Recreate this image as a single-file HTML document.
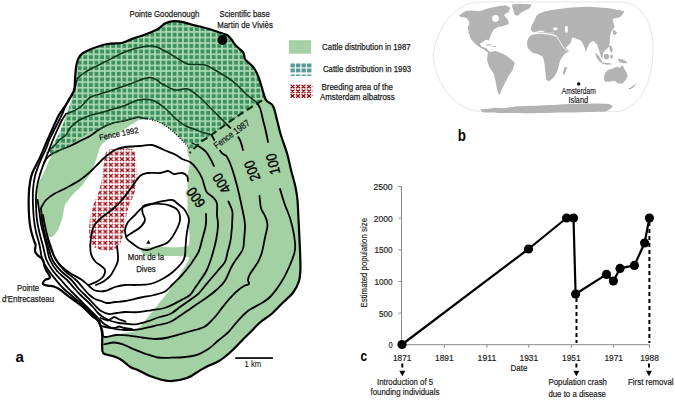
<!DOCTYPE html>
<html><head><meta charset="utf-8">
<style>
html,body{margin:0;padding:0;background:#fff;}
svg{display:block;}
text{font-family:"Liberation Sans",sans-serif;}
</style></head>
<body>
<svg width="675" height="400" viewBox="0 0 675 400">
<defs>
<pattern id="gp" patternUnits="userSpaceOnUse" x="3.53" y="3.18" width="5.58" height="5.58">
<rect width="5.58" height="5.58" fill="#a9d9b0"/>
<rect x="1.7" y="1.7" width="3.88" height="3.88" fill="#3f8f60"/>
</pattern>
<pattern id="rp" patternUnits="userSpaceOnUse" x="2.07" y="0.09" width="5.58" height="5.58">
<rect width="5.58" height="5.58" fill="#fff"/>
<path d="M0.9,0.9 L4.7,4.7 M4.7,0.9 L0.9,4.7" stroke="#9b0a14" stroke-width="1.35"/>
</pattern>
<pattern id="tp" patternUnits="userSpaceOnUse" x="290" y="63" width="4.6" height="4.4">
<rect x="0" y="0" width="3.4" height="3.0" fill="#5a9fa0"/>
</pattern>
<pattern id="lrp" patternUnits="userSpaceOnUse" x="289" y="84" width="5.5" height="4.8">
<path d="M0.8,0.8 L4.2,4.0 M4.2,0.8 L0.8,4.0" stroke="#9b0a14" stroke-width="1.3"/>
</pattern>
</defs>
<rect width="675" height="400" fill="#fff"/>

<!-- ===== Panel a: map ===== -->
<path d="M121.9,43.0 C126.1,42.1 128.4,40.3 132.2,38.9 C136.0,37.5 140.5,36.3 144.7,34.7 C148.8,33.1 153.6,31.4 157.1,29.5 C160.6,27.6 162.6,24.7 165.4,23.3 C168.2,21.9 170.6,21.4 173.7,21.2 C176.8,21.0 180.6,21.6 184.1,22.3 C187.6,23.0 191.8,24.7 194.5,25.4 C197.2,26.1 197.6,25.9 200.0,26.5 C202.4,27.1 206.0,28.1 209.0,29.0 C212.0,29.9 215.0,31.0 218.0,32.0 C221.0,33.0 224.8,33.8 227.0,35.0 C229.2,36.2 230.2,38.0 231.5,39.5 C232.8,41.0 233.2,42.5 234.5,44.0 C235.8,45.5 237.5,47.0 239.0,48.5 C240.5,50.0 242.5,51.2 243.5,53.0 C244.5,54.8 244.0,57.2 245.0,59.0 C246.0,60.8 248.0,62.0 249.5,63.5 C251.0,65.0 252.5,65.8 254.0,68.0 C255.5,70.2 257.2,73.7 258.5,77.0 C259.8,80.3 260.8,84.2 262.0,88.0 C263.2,91.8 264.2,97.0 266.0,100.0 C267.8,103.0 271.2,102.7 273.0,106.0 C274.8,109.3 275.8,115.7 277.0,120.0 C278.2,124.3 279.1,128.7 280.0,132.0 C280.9,135.3 281.2,136.2 282.5,140.0 C283.8,143.8 286.1,150.0 287.5,155.0 C288.9,160.0 289.8,165.0 291.0,170.0 C292.2,175.0 293.9,180.0 295.0,185.0 C296.1,190.0 296.9,193.3 297.5,200.0 C298.1,206.7 298.3,216.7 298.8,225.0 C299.2,233.3 299.7,242.5 300.0,250.0 C300.3,257.5 300.6,264.8 300.4,270.0 C300.2,275.2 300.1,277.3 299.0,281.0 C297.9,284.7 296.2,288.3 293.5,292.0 C290.8,295.7 286.2,299.3 282.5,303.0 C278.8,306.7 275.2,310.8 271.5,314.0 C267.8,317.2 264.2,318.8 260.5,322.0 C256.8,325.2 252.8,329.8 249.5,333.0 C246.2,336.2 244.2,338.2 241.0,341.5 C237.8,344.8 233.7,349.2 230.0,352.5 C226.3,355.8 222.7,358.8 219.0,361.0 C215.3,363.2 211.2,364.4 208.0,366.0 C204.8,367.6 203.5,368.4 200.0,370.4 C196.5,372.4 192.2,376.2 187.0,378.0 C181.8,379.8 175.2,381.3 169.0,381.0 C162.8,380.7 155.0,377.8 150.0,376.0 C145.0,374.2 142.0,371.9 138.8,370.4 C135.6,368.9 133.4,368.8 130.7,367.2 C128.0,365.6 125.2,362.4 122.5,360.6 C119.8,358.8 117.2,357.7 114.4,356.6 C111.6,355.6 107.5,355.2 105.5,354.3 C103.5,353.4 103.0,354.0 102.4,351.0 C101.9,348.0 102.4,340.1 102.2,336.3 C102.0,332.5 101.8,330.6 101.2,328.0 C100.6,325.4 100.0,323.0 98.5,321.0 C97.0,319.0 94.6,318.3 92.0,316.0 C89.4,313.7 86.5,310.0 83.0,307.0 C79.5,304.0 75.0,301.0 71.0,298.0 C67.0,295.0 61.9,290.9 59.0,289.0 C56.1,287.1 55.7,287.1 53.8,286.5 C51.8,285.9 49.3,286.0 47.5,285.6 C45.7,285.2 43.4,284.9 43.0,284.0 C42.6,283.1 43.8,281.1 45.0,280.0 C46.2,278.9 49.8,279.2 50.0,277.5 C50.2,275.8 46.9,271.9 46.0,270.0 C45.1,268.1 44.9,267.7 44.4,266.0 C43.9,264.3 44.1,261.8 43.0,260.0 C41.9,258.2 38.8,256.5 37.5,255.0 C36.2,253.5 35.3,252.7 35.0,251.0 C34.7,249.3 35.8,246.8 35.6,245.0 C35.4,243.2 34.6,242.8 33.8,240.0 C32.9,237.2 31.3,232.2 30.5,228.0 C29.7,223.8 29.3,220.5 29.0,215.0 C28.7,209.5 28.6,200.4 28.8,195.0 C28.9,189.6 29.4,186.2 30.0,182.5 C30.6,178.8 30.8,176.7 32.5,172.5 C34.2,168.3 37.6,162.8 40.0,157.5 C42.4,152.2 45.0,145.6 47.0,141.0 C49.0,136.4 50.0,134.3 52.0,130.0 C54.0,125.7 56.4,119.6 59.0,115.0 C61.6,110.4 65.0,106.7 67.5,102.5 C70.0,98.3 72.8,93.8 74.0,90.0 C75.2,86.2 74.7,83.8 75.0,80.0 C75.3,76.2 75.5,71.1 76.0,67.5 C76.5,63.9 77.2,61.0 78.3,58.6 C79.4,56.2 80.3,55.0 82.4,53.4 C84.5,51.8 86.6,50.8 90.7,49.2 C94.8,47.6 102.1,45.0 107.3,44.0 C112.5,43.0 117.8,43.9 121.9,43.0Z" fill="#fff"/>
<path d="M121.9,43.0 C124.4,42.5 129.9,39.7 132.2,38.9 C134.5,38.1 142.2,35.6 144.7,34.7 C147.2,33.8 155.0,30.6 157.1,29.5 C159.2,28.4 163.7,24.1 165.4,23.3 C167.1,22.5 171.8,21.3 173.7,21.2 C175.6,21.1 182.0,21.9 184.1,22.3 C186.2,22.7 192.9,25.0 194.5,25.4 C196.1,25.8 198.6,26.1 200.0,26.5 C201.4,26.9 207.2,28.4 209.0,29.0 C210.8,29.6 216.2,31.4 218.0,32.0 C219.8,32.6 225.7,34.2 227.0,35.0 C228.3,35.8 230.8,38.6 231.5,39.5 C232.2,40.4 233.8,43.1 234.5,44.0 C235.2,44.9 238.1,47.6 239.0,48.5 C239.9,49.4 242.9,52.0 243.5,53.0 C244.1,54.0 244.4,58.0 245.0,59.0 C245.6,60.0 248.6,62.6 249.5,63.5 C250.4,64.4 253.1,66.7 254.0,68.0 C254.9,69.3 257.7,75.0 258.5,77.0 C259.3,79.0 261.2,85.7 262.0,88.0 C262.8,90.3 264.9,98.2 266.0,100.0 C267.1,101.8 271.9,104.0 273.0,106.0 C274.1,108.0 276.3,117.4 277.0,120.0 C277.7,122.6 279.4,130.0 280.0,132.0 C280.6,134.0 281.8,137.7 282.5,140.0 C283.2,142.3 286.6,152.0 287.5,155.0 C288.4,158.0 290.2,167.0 291.0,170.0 C291.8,173.0 294.4,182.0 295.0,185.0 C295.6,188.0 297.1,196.0 297.5,200.0 C297.9,204.0 298.5,220.0 298.8,225.0 C299.0,230.0 299.8,245.5 300.0,250.0 C300.2,254.5 300.5,266.9 300.4,270.0 C300.3,273.1 299.7,278.8 299.0,281.0 C298.3,283.2 295.1,289.8 293.5,292.0 C291.9,294.2 284.7,300.8 282.5,303.0 C280.3,305.2 273.7,312.1 271.5,314.0 C269.3,315.9 262.7,320.1 260.5,322.0 C258.3,323.9 251.4,331.1 249.5,333.0 C247.6,334.9 242.9,339.6 241.0,341.5 C239.1,343.4 232.2,350.6 230.0,352.5 C227.8,354.4 221.2,359.6 219.0,361.0 C216.8,362.4 209.9,365.1 208.0,366.0 C206.1,366.9 202.1,369.2 200.0,370.4 C197.9,371.6 190.1,376.9 187.0,378.0 C183.9,379.1 172.7,381.2 169.0,381.0 C165.3,380.8 153.0,377.1 150.0,376.0 C147.0,374.9 140.7,371.3 138.8,370.4 C136.9,369.5 132.3,368.2 130.7,367.2 C129.1,366.2 124.1,361.7 122.5,360.6 C120.9,359.5 116.1,357.2 114.4,356.6 C112.7,356.0 106.7,354.9 105.5,354.3 C104.3,353.7 102.7,352.8 102.4,351.0 C102.1,349.2 101.9,337.7 102.2,336.3 C102.5,334.9 103.2,337.2 105.0,337.0 C106.8,336.8 117.0,334.6 120.0,334.0 C123.0,333.4 132.6,332.2 135.0,331.0 C137.4,329.8 141.9,324.4 144.0,322.0 C146.1,319.6 153.6,310.0 156.0,307.0 C158.4,304.0 165.6,295.3 168.0,292.0 C170.4,288.7 177.9,277.3 180.0,274.0 C182.1,270.7 188.5,260.8 189.0,259.0 C189.5,257.2 187.9,256.8 185.0,256.5 C182.1,256.2 164.0,256.1 160.0,256.0 C156.0,255.9 146.9,256.0 145.0,255.5 C143.1,255.0 141.0,251.8 141.0,251.0 C141.0,250.2 143.1,247.9 145.0,247.5 C146.9,247.1 155.7,247.2 160.0,247.0 C164.3,246.8 185.1,248.2 188.0,246.0 C190.9,243.8 188.8,228.6 188.8,225.0 C188.7,221.4 187.6,214.0 187.5,210.0 C187.4,206.0 187.5,188.5 187.5,185.0 C187.5,181.5 187.2,177.2 187.5,175.0 C187.8,172.8 190.0,164.8 190.0,162.5 C190.0,160.2 187.8,154.3 187.5,152.5 C187.2,150.7 187.7,145.8 187.0,144.4 C186.3,143.1 182.0,140.2 180.7,139.0 C179.4,137.8 175.0,133.2 173.6,132.0 C172.2,130.8 168.1,127.8 166.5,126.7 C164.9,125.6 159.4,122.1 157.5,121.3 C155.6,120.5 148.8,118.9 147.0,118.7 C145.2,118.5 141.4,119.0 139.8,119.6 C138.2,120.2 133.0,123.8 131.0,125.0 C129.0,126.2 122.3,130.6 120.0,132.0 C117.7,133.4 109.7,137.6 107.8,139.0 C105.9,140.4 101.7,144.4 100.7,146.0 C99.7,147.6 98.3,152.6 97.5,155.0 C96.7,157.4 94.0,167.0 92.5,170.0 C91.0,173.0 84.5,182.5 82.5,185.0 C80.5,187.5 74.2,193.0 72.5,195.0 C70.8,197.0 66.0,202.8 65.0,205.0 C64.0,207.2 63.2,215.0 62.5,217.5 C61.8,220.0 59.0,228.1 58.0,230.0 C57.0,231.9 53.4,236.6 52.0,237.0 C50.6,237.4 45.1,235.5 44.0,234.0 C42.9,232.5 41.4,224.4 41.0,222.0 C40.6,219.6 40.4,212.4 40.0,210.0 C39.6,207.6 37.7,200.0 37.5,197.5 C37.3,195.0 37.2,187.8 38.0,185.0 C38.8,182.2 43.5,173.2 45.0,170.0 C46.5,166.8 51.0,156.3 52.5,152.5 C54.0,148.7 58.5,136.1 60.0,132.0 C61.5,128.0 66.1,116.0 67.5,112.0 C68.9,108.0 73.2,95.2 74.0,92.0 C74.8,88.8 74.8,82.5 75.0,80.0 C75.2,77.5 75.7,69.6 76.0,67.5 C76.3,65.4 77.7,60.0 78.3,58.6 C78.9,57.2 81.2,54.3 82.4,53.4 C83.6,52.5 88.2,50.1 90.7,49.2 C93.2,48.3 104.2,44.6 107.3,44.0 C110.4,43.4 119.4,43.5 121.9,43.0Z" fill="#a3d1a3"/>
<path d="M121.9,43.0 C124.4,42.5 129.9,39.7 132.2,38.9 C134.5,38.1 142.2,35.6 144.7,34.7 C147.2,33.8 155.0,30.6 157.1,29.5 C159.2,28.4 163.7,24.1 165.4,23.3 C167.1,22.5 171.8,21.3 173.7,21.2 C175.6,21.1 182.0,21.9 184.1,22.3 C186.2,22.7 192.9,25.0 194.5,25.4 C196.1,25.8 198.6,26.1 200.0,26.5 C201.4,26.9 207.2,28.4 209.0,29.0 C210.8,29.6 216.2,31.4 218.0,32.0 C219.8,32.6 225.7,34.2 227.0,35.0 C228.3,35.8 230.8,38.6 231.5,39.5 C232.2,40.4 233.8,43.1 234.5,44.0 C235.2,44.9 238.1,47.6 239.0,48.5 C239.9,49.4 242.9,52.0 243.5,53.0 C244.1,54.0 244.4,58.0 245.0,59.0 C245.6,60.0 248.6,62.6 249.5,63.5 C250.4,64.4 253.1,66.7 254.0,68.0 C254.9,69.3 257.7,75.0 258.5,77.0 C259.3,79.0 261.2,85.7 262.0,88.0 C262.8,90.3 266.1,98.7 266.0,100.0 C265.9,101.3 265.2,98.4 261.0,101.0 C256.8,103.6 230.1,121.8 224.0,126.0 C217.9,130.2 203.3,140.6 200.0,143.0 C196.7,145.4 192.3,149.9 191.0,150.0 C189.7,150.1 188.0,145.5 187.0,144.4 C186.0,143.3 182.0,140.2 180.7,139.0 C179.4,137.8 175.0,133.2 173.6,132.0 C172.2,130.8 168.1,127.8 166.5,126.7 C164.9,125.6 159.4,122.1 157.5,121.3 C155.6,120.5 148.8,118.9 147.0,118.7 C145.2,118.5 140.7,119.8 139.8,119.6 C138.9,119.4 139.4,116.9 138.0,117.0 C136.6,117.1 128.0,119.8 125.5,120.4 C123.0,121.0 115.5,122.2 113.0,123.0 C110.5,123.8 103.0,127.5 100.7,128.4 C98.4,129.3 93.1,130.3 90.0,132.0 C86.9,133.7 73.7,142.7 70.0,145.0 C66.3,147.3 55.0,154.5 53.0,155.0 C51.0,155.5 49.3,152.3 50.0,150.0 C50.7,147.7 58.2,135.8 60.0,132.0 C61.8,128.2 66.1,116.0 67.5,112.0 C68.9,108.0 73.2,95.2 74.0,92.0 C74.8,88.8 74.8,82.5 75.0,80.0 C75.2,77.5 75.7,69.6 76.0,67.5 C76.3,65.4 77.7,60.0 78.3,58.6 C78.9,57.2 81.2,54.3 82.4,53.4 C83.6,52.5 88.2,50.1 90.7,49.2 C93.2,48.3 104.2,44.6 107.3,44.0 C110.4,43.4 119.4,43.5 121.9,43.0Z" fill="url(#gp)"/>
<path d="M108.5,150.0 C111.3,148.8 117.9,148.6 122.0,148.5 C126.1,148.4 130.8,148.2 133.0,149.5 C135.2,150.8 134.8,152.9 135.5,156.0 C136.2,159.1 136.8,164.0 137.0,168.0 C137.2,172.0 137.5,175.7 137.0,180.0 C136.5,184.3 135.5,189.2 134.0,194.0 C132.5,198.8 129.5,204.0 128.0,209.0 C126.5,214.0 126.0,219.0 125.0,224.0 C124.0,229.0 123.2,235.2 122.0,239.0 C120.8,242.8 120.0,245.1 118.0,247.0 C116.0,248.9 113.3,250.2 110.0,250.5 C106.7,250.8 101.1,250.1 98.0,249.0 C94.9,247.9 93.0,246.8 91.5,244.0 C90.0,241.2 89.2,236.3 89.0,232.0 C88.8,227.7 89.3,222.3 90.0,218.0 C90.7,213.7 91.7,210.0 93.0,206.0 C94.3,202.0 96.6,198.3 98.0,194.0 C99.4,189.7 100.6,184.7 101.5,180.0 C102.4,175.3 102.9,170.0 103.5,166.0 C104.1,162.0 104.2,158.7 105.0,156.0 C105.8,153.3 105.7,151.2 108.5,150.0Z" fill="url(#rp)"/>
<mask id="nogrid" maskUnits="userSpaceOnUse" x="0" y="0" width="675" height="400"><rect width="675" height="400" fill="#fff"/><path d="M121.9,43.0 C124.4,42.5 129.9,39.7 132.2,38.9 C134.5,38.1 142.2,35.6 144.7,34.7 C147.2,33.8 155.0,30.6 157.1,29.5 C159.2,28.4 163.7,24.1 165.4,23.3 C167.1,22.5 171.8,21.3 173.7,21.2 C175.6,21.1 182.0,21.9 184.1,22.3 C186.2,22.7 192.9,25.0 194.5,25.4 C196.1,25.8 198.6,26.1 200.0,26.5 C201.4,26.9 207.2,28.4 209.0,29.0 C210.8,29.6 216.2,31.4 218.0,32.0 C219.8,32.6 225.7,34.2 227.0,35.0 C228.3,35.8 230.8,38.6 231.5,39.5 C232.2,40.4 233.8,43.1 234.5,44.0 C235.2,44.9 238.1,47.6 239.0,48.5 C239.9,49.4 242.9,52.0 243.5,53.0 C244.1,54.0 244.4,58.0 245.0,59.0 C245.6,60.0 248.6,62.6 249.5,63.5 C250.4,64.4 253.1,66.7 254.0,68.0 C254.9,69.3 257.7,75.0 258.5,77.0 C259.3,79.0 261.2,85.7 262.0,88.0 C262.8,90.3 266.1,98.7 266.0,100.0 C265.9,101.3 265.2,98.4 261.0,101.0 C256.8,103.6 230.1,121.8 224.0,126.0 C217.9,130.2 203.3,140.6 200.0,143.0 C196.7,145.4 192.3,149.9 191.0,150.0 C189.7,150.1 188.0,145.5 187.0,144.4 C186.0,143.3 182.0,140.2 180.7,139.0 C179.4,137.8 175.0,133.2 173.6,132.0 C172.2,130.8 168.1,127.8 166.5,126.7 C164.9,125.6 159.4,122.1 157.5,121.3 C155.6,120.5 148.8,118.9 147.0,118.7 C145.2,118.5 140.7,119.8 139.8,119.6 C138.9,119.4 139.4,116.9 138.0,117.0 C136.6,117.1 128.0,119.8 125.5,120.4 C123.0,121.0 115.5,122.2 113.0,123.0 C110.5,123.8 103.0,127.5 100.7,128.4 C98.4,129.3 93.1,130.3 90.0,132.0 C86.9,133.7 73.7,142.7 70.0,145.0 C66.3,147.3 55.0,154.5 53.0,155.0 C51.0,155.5 49.3,152.3 50.0,150.0 C50.7,147.7 58.2,135.8 60.0,132.0 C61.8,128.2 66.1,116.0 67.5,112.0 C68.9,108.0 73.2,95.2 74.0,92.0 C74.8,88.8 74.8,82.5 75.0,80.0 C75.2,77.5 75.7,69.6 76.0,67.5 C76.3,65.4 77.7,60.0 78.3,58.6 C78.9,57.2 81.2,54.3 82.4,53.4 C83.6,52.5 88.2,50.1 90.7,49.2 C93.2,48.3 104.2,44.6 107.3,44.0 C110.4,43.4 119.4,43.5 121.9,43.0Z" fill="#000"/></mask>
<clipPath id="gridclip"><path d="M121.9,43.0 C124.4,42.5 129.9,39.7 132.2,38.9 C134.5,38.1 142.2,35.6 144.7,34.7 C147.2,33.8 155.0,30.6 157.1,29.5 C159.2,28.4 163.7,24.1 165.4,23.3 C167.1,22.5 171.8,21.3 173.7,21.2 C175.6,21.1 182.0,21.9 184.1,22.3 C186.2,22.7 192.9,25.0 194.5,25.4 C196.1,25.8 198.6,26.1 200.0,26.5 C201.4,26.9 207.2,28.4 209.0,29.0 C210.8,29.6 216.2,31.4 218.0,32.0 C219.8,32.6 225.7,34.2 227.0,35.0 C228.3,35.8 230.8,38.6 231.5,39.5 C232.2,40.4 233.8,43.1 234.5,44.0 C235.2,44.9 238.1,47.6 239.0,48.5 C239.9,49.4 242.9,52.0 243.5,53.0 C244.1,54.0 244.4,58.0 245.0,59.0 C245.6,60.0 248.6,62.6 249.5,63.5 C250.4,64.4 253.1,66.7 254.0,68.0 C254.9,69.3 257.7,75.0 258.5,77.0 C259.3,79.0 261.2,85.7 262.0,88.0 C262.8,90.3 266.1,98.7 266.0,100.0 C265.9,101.3 265.2,98.4 261.0,101.0 C256.8,103.6 230.1,121.8 224.0,126.0 C217.9,130.2 203.3,140.6 200.0,143.0 C196.7,145.4 192.3,149.9 191.0,150.0 C189.7,150.1 188.0,145.5 187.0,144.4 C186.0,143.3 182.0,140.2 180.7,139.0 C179.4,137.8 175.0,133.2 173.6,132.0 C172.2,130.8 168.1,127.8 166.5,126.7 C164.9,125.6 159.4,122.1 157.5,121.3 C155.6,120.5 148.8,118.9 147.0,118.7 C145.2,118.5 140.7,119.8 139.8,119.6 C138.9,119.4 139.4,116.9 138.0,117.0 C136.6,117.1 128.0,119.8 125.5,120.4 C123.0,121.0 115.5,122.2 113.0,123.0 C110.5,123.8 103.0,127.5 100.7,128.4 C98.4,129.3 93.1,130.3 90.0,132.0 C86.9,133.7 73.7,142.7 70.0,145.0 C66.3,147.3 55.0,154.5 53.0,155.0 C51.0,155.5 49.3,152.3 50.0,150.0 C50.7,147.7 58.2,135.8 60.0,132.0 C61.8,128.2 66.1,116.0 67.5,112.0 C68.9,108.0 73.2,95.2 74.0,92.0 C74.8,88.8 74.8,82.5 75.0,80.0 C75.2,77.5 75.7,69.6 76.0,67.5 C76.3,65.4 77.7,60.0 78.3,58.6 C78.9,57.2 81.2,54.3 82.4,53.4 C83.6,52.5 88.2,50.1 90.7,49.2 C93.2,48.3 104.2,44.6 107.3,44.0 C110.4,43.4 119.4,43.5 121.9,43.0Z"/></clipPath>
<g fill="none" stroke="#000" stroke-width="1.8" stroke-linecap="round" stroke-linejoin="round" mask="url(#nogrid)">
<path d="M268.0,142.0 C267.7,140.3 266.8,135.7 266.0,132.0 C265.2,128.3 264.0,124.0 263.0,120.0 C262.0,116.0 261.2,111.0 260.0,108.0 C258.8,105.0 258.3,104.3 256.0,102.0 C253.7,99.7 249.3,97.0 246.0,94.0 C242.7,91.0 239.0,86.7 236.0,84.0 C233.0,81.3 231.5,80.3 228.0,78.0 C224.5,75.7 218.8,72.2 215.0,70.0 C211.2,67.8 209.6,66.0 205.0,65.0 C200.4,64.0 192.0,65.1 187.5,64.0 C183.0,62.9 181.2,60.6 177.9,58.6 C174.6,56.6 171.0,54.2 167.5,52.3 C164.0,50.4 160.2,48.2 157.1,47.2 C154.0,46.2 152.2,45.9 148.8,46.1 C145.4,46.3 140.5,47.2 136.4,48.2 C132.3,49.2 128.2,50.6 124.0,52.3 C119.8,54.0 115.3,56.7 111.5,58.6 C107.7,60.5 104.5,62.1 101.0,63.8 C97.5,65.5 93.5,67.5 90.7,69.0 C87.9,70.5 86.2,71.5 84.0,73.0 C81.8,74.5 78.6,77.2 77.5,78.0"/>
<path d="M243.0,150.0 C242.5,148.3 241.3,142.8 240.0,140.0 C238.7,137.2 237.5,135.9 235.0,133.0 C232.5,130.1 227.9,125.5 225.0,122.5 C222.1,119.5 220.0,117.5 217.5,115.0 C215.0,112.5 212.9,110.4 210.0,107.5 C207.1,104.6 203.8,100.6 200.0,97.5 C196.2,94.4 191.7,90.2 187.5,89.0 C183.3,87.8 179.2,90.8 175.0,90.0 C170.8,89.2 166.7,86.1 162.5,84.0 C158.3,81.9 155.4,77.5 150.0,77.5 C144.6,77.5 136.2,81.9 130.0,84.0 C123.8,86.1 117.5,88.3 112.5,90.0 C107.5,91.7 103.8,92.8 100.0,94.0 C96.2,95.2 93.2,95.4 90.0,97.5 C86.8,99.6 83.8,104.2 81.0,106.5 C78.2,108.8 76.0,109.8 73.5,111.0 C71.0,112.2 67.2,113.5 66.0,114.0"/>
<path d="M77.5,78.0 C77.2,79.3 76.2,83.5 75.5,86.0 C74.8,88.5 74.6,90.8 73.5,93.0 C72.4,95.2 70.4,96.8 69.0,99.0 C67.6,101.2 66.4,104.0 65.2,106.5 C64.1,109.0 63.4,111.5 62.2,114.0 C61.1,116.5 59.9,118.8 58.5,121.5 C57.1,124.2 55.5,127.5 54.0,130.5 C52.5,133.5 50.9,136.2 49.5,139.5 C48.1,142.8 47.2,146.1 45.5,150.0 C43.8,153.9 41.2,158.7 39.5,163.0 C37.8,167.3 36.1,171.5 35.0,176.0 C33.9,180.5 33.3,185.2 33.0,190.0 C32.7,194.8 32.8,200.0 33.0,205.0 C33.2,210.0 33.5,215.5 34.0,220.0 C34.5,224.5 35.1,227.8 36.0,232.0 C36.9,236.2 38.4,240.3 39.5,245.0 C40.6,249.7 40.9,255.7 42.5,260.0 C44.1,264.3 46.8,267.7 49.0,271.0 C51.2,274.3 53.7,277.2 56.0,280.0 C58.3,282.8 60.5,285.5 63.0,288.0 C65.5,290.5 68.5,292.8 71.0,295.0 C73.5,297.2 75.8,299.2 78.0,301.0 C80.2,302.8 82.2,304.3 84.0,306.0 C85.8,307.7 87.3,309.3 89.0,311.0 C90.7,312.7 92.5,314.3 94.0,316.0 C95.5,317.7 96.9,319.3 98.0,321.0 C99.1,322.7 99.8,324.3 100.5,326.0 C101.2,327.7 101.9,329.2 102.5,331.0 C103.1,332.8 101.9,336.2 104.2,336.9 C106.6,337.6 112.6,335.2 116.8,335.0 C120.9,334.8 125.1,335.2 129.2,335.6 C133.4,336.0 137.4,336.9 141.8,337.5 C146.1,338.1 150.8,339.0 155.2,339.0 C159.6,339.0 162.8,338.7 168.2,337.5 C173.6,336.3 181.8,333.8 187.8,332.0 C193.8,330.2 199.6,329.3 204.0,327.0 C208.4,324.7 211.3,320.8 214.0,318.0 C216.7,315.2 218.1,312.9 220.4,310.0 C222.7,307.1 225.4,303.5 228.0,300.5 C230.6,297.5 233.3,294.4 236.0,292.0 C238.7,289.6 241.8,287.3 244.0,286.0 C246.2,284.7 248.3,285.0 249.0,284.0 C249.7,283.0 247.8,281.7 248.0,280.0 C248.2,278.3 248.3,277.0 250.0,274.0 C251.7,271.0 256.0,265.7 258.0,262.0 C260.0,258.3 260.8,256.1 262.0,252.0 C263.2,247.9 264.1,242.0 265.0,237.5 C265.9,233.0 267.5,228.6 267.5,225.0 C267.5,221.4 266.1,218.8 265.0,216.0 C263.9,213.2 261.9,211.3 261.0,208.0 C260.1,204.7 259.8,198.0 259.5,196.0"/>
<path d="M66.0,114.0 C65.3,115.0 63.5,117.2 62.0,120.0 C60.5,122.8 58.6,127.0 57.0,130.5 C55.4,134.0 53.8,137.8 52.5,141.0 C51.2,144.2 50.4,146.3 49.0,150.0 C47.6,153.7 45.6,158.7 44.0,163.0 C42.4,167.3 40.8,171.5 39.5,176.0 C38.2,180.5 37.1,185.2 36.5,190.0 C35.9,194.8 35.9,200.0 36.0,205.0 C36.1,210.0 36.4,215.3 37.0,220.0 C37.6,224.7 38.5,228.7 39.5,233.0 C40.5,237.3 41.8,241.5 43.0,246.0 C44.2,250.5 44.8,255.8 46.5,260.0 C48.2,264.2 50.6,267.7 53.0,271.0 C55.4,274.3 58.5,277.2 61.0,280.0 C63.5,282.8 65.7,285.5 68.0,288.0 C70.3,290.5 72.7,292.7 75.0,295.0 C77.3,297.3 79.7,299.7 82.0,302.0 C84.3,304.3 86.8,306.8 89.0,309.0 C91.2,311.2 93.2,313.2 95.0,315.0 C96.8,316.8 98.3,318.4 100.0,320.0 C101.7,321.6 102.8,323.1 105.0,324.5 C107.2,325.9 109.7,327.6 113.0,328.5 C116.3,329.4 121.7,329.8 125.0,330.0 C128.3,330.2 130.2,330.2 133.0,330.0 C135.8,329.8 138.8,329.3 141.8,328.8 C144.7,328.2 147.8,327.5 150.5,326.9 C153.2,326.3 154.8,325.8 158.0,325.0 C161.2,324.2 166.1,323.7 170.0,322.0 C173.9,320.3 178.0,317.2 181.3,315.0 C184.6,312.8 187.4,310.8 190.0,309.0 C192.6,307.2 194.1,306.0 197.0,304.0 C199.9,302.0 204.3,299.3 207.5,297.0 C210.7,294.7 213.4,292.7 216.3,290.0 C219.2,287.3 222.1,285.2 224.8,281.0 C227.4,276.8 229.5,270.2 232.5,265.0 C235.5,259.8 240.6,254.2 242.5,250.0 C244.4,245.8 243.6,244.2 244.0,240.0 C244.4,235.8 245.2,230.0 245.0,225.0 C244.8,220.0 243.8,216.2 242.5,210.0 C241.2,203.8 239.2,194.2 237.5,187.5 C235.8,180.8 234.2,175.1 232.5,170.0 C230.8,164.9 228.8,159.8 227.0,157.0 C225.2,154.2 223.6,155.2 221.8,153.0 C220.0,150.8 217.8,147.0 216.0,144.0 C214.2,141.0 213.6,136.9 211.3,135.0 C209.1,133.1 205.4,133.5 202.5,132.5 C199.6,131.5 196.7,130.2 193.8,129.0 C190.8,127.8 188.1,127.3 185.0,125.5 C181.9,123.7 178.4,120.9 175.0,118.0 C171.6,115.1 168.5,111.0 164.7,108.0 C160.9,105.0 156.4,101.3 152.0,100.0 C147.6,98.7 142.4,99.1 138.0,100.0 C133.6,100.9 130.5,103.5 125.5,105.3 C120.5,107.1 113.7,109.0 107.8,110.7 C101.9,112.4 94.7,114.0 90.0,115.5 C85.3,117.0 82.8,118.0 79.5,120.0 C76.2,122.0 72.8,125.0 70.5,127.5 C68.2,130.0 67.8,133.0 66.0,135.0 C64.2,137.0 61.8,137.8 60.0,139.5 C58.2,141.2 56.7,143.2 55.0,145.0 C53.3,146.8 51.2,148.7 50.0,150.0 C48.8,151.3 47.9,152.5 47.5,153.0"/>
<path d="M213.9,166.0 C213.5,165.1 212.6,162.9 211.3,160.5 C210.0,158.1 208.1,154.1 206.0,151.8 C203.9,149.4 201.3,148.0 199.0,146.5 C196.7,145.0 193.2,143.6 192.0,143.0"/>
<path d="M37.5,200.0 C37.7,201.0 38.2,203.8 38.5,206.0 C38.8,208.2 39.1,210.0 39.5,213.0 C39.9,216.0 40.2,220.2 41.0,224.0 C41.8,227.8 43.0,232.0 44.0,236.0 C45.0,240.0 46.0,244.0 47.0,248.0 C48.0,252.0 48.3,256.2 50.0,260.0 C51.7,263.8 54.2,267.7 57.0,271.0 C59.8,274.3 64.2,277.2 67.0,280.0 C69.8,282.8 71.8,285.5 74.0,288.0 C76.2,290.5 78.3,292.8 80.5,295.0 C82.7,297.2 84.9,299.0 87.0,301.0 C89.1,303.0 91.2,305.0 93.0,307.0 C94.8,309.0 96.3,311.3 98.0,313.0 C99.7,314.7 100.8,315.7 103.0,317.0 C105.2,318.3 108.3,320.0 111.0,321.0 C113.7,322.0 116.7,322.6 119.0,323.0 C121.3,323.4 122.2,323.3 125.0,323.5 C127.8,323.7 131.7,324.8 135.5,324.4 C139.3,324.0 144.2,322.4 148.0,321.2 C151.8,320.1 154.3,318.7 158.0,317.5 C161.7,316.3 166.1,315.9 170.0,314.0 C173.9,312.1 178.0,308.3 181.3,306.0 C184.6,303.7 187.1,302.1 190.0,300.0 C192.9,297.9 195.9,296.2 198.8,293.3 C201.7,290.4 204.3,286.6 207.5,282.8 C210.7,279.0 215.1,274.0 218.0,270.5 C220.9,267.0 223.4,264.8 225.0,261.8 C226.6,258.8 226.5,256.6 227.5,252.5 C228.5,248.4 230.2,243.8 231.0,237.5 C231.8,231.2 232.4,219.7 232.5,215.0 C232.6,210.3 232.4,211.7 231.8,209.4 C231.1,207.2 229.0,202.8 228.4,201.5"/>
<path d="M147.0,118.7 C146.1,118.5 143.0,118.1 141.5,117.8 C140.0,117.5 140.7,116.6 138.0,117.0 C135.3,117.4 129.7,119.4 125.5,120.4 C121.3,121.4 117.1,121.7 113.0,123.0 C108.9,124.3 104.5,126.2 100.7,128.4 C96.9,130.6 93.5,133.9 90.0,136.0 C86.5,138.1 83.3,139.3 80.0,141.0 C76.7,142.7 73.3,144.5 70.0,146.0 C66.7,147.5 63.0,148.7 60.0,150.0 C57.0,151.3 54.2,152.7 52.0,154.0 C49.8,155.3 48.3,156.5 47.0,158.0 C45.7,159.5 44.5,162.2 44.0,163.0"/>
<path d="M41.0,208.0 C41.2,210.0 41.4,215.8 42.0,220.0 C42.6,224.2 43.5,228.7 44.5,233.0 C45.5,237.3 46.7,241.5 48.0,246.0 C49.3,250.5 50.3,255.8 52.5,260.0 C54.7,264.2 57.8,267.7 61.0,271.0 C64.2,274.3 68.7,277.2 71.5,280.0 C74.3,282.8 75.8,285.5 78.0,288.0 C80.2,290.5 82.8,292.8 85.0,295.0 C87.2,297.2 89.1,299.0 91.0,301.0 C92.9,303.0 94.8,305.3 96.5,307.0 C98.2,308.7 98.9,309.8 101.0,311.0 C103.1,312.2 106.3,313.7 109.0,314.0 C111.7,314.3 114.3,313.3 117.0,313.0 C119.7,312.7 121.5,312.1 125.0,312.0 C128.5,311.9 133.7,312.5 138.0,312.2 C142.3,311.9 146.3,311.1 151.0,310.3 C155.7,309.5 160.9,309.2 166.0,307.5 C171.1,305.8 177.3,302.1 181.3,300.0 C185.3,297.9 187.7,297.1 190.0,295.0 C192.3,292.9 192.7,291.3 195.3,287.5 C197.9,283.7 203.4,276.2 205.8,272.0 C208.2,267.8 208.8,265.2 210.0,262.0 C211.2,258.8 211.8,256.8 212.8,253.0 C213.9,249.2 215.4,243.7 216.3,239.0 C217.2,234.3 217.9,229.0 218.0,225.0 C218.1,221.0 217.2,218.5 217.0,215.0 C216.8,211.5 217.5,206.6 217.0,203.8 C216.5,200.9 215.4,199.9 213.8,198.0 C212.1,196.1 208.5,194.3 207.0,192.5 C205.5,190.7 205.5,189.3 204.7,186.9 C203.9,184.5 203.4,181.2 202.0,178.0 C200.6,174.8 198.0,170.7 196.0,168.0 C194.0,165.3 192.3,163.5 190.0,162.0 C187.7,160.5 184.3,160.2 182.0,159.0 C179.7,157.8 179.0,156.5 176.0,155.0 C173.0,153.5 168.0,151.7 164.0,150.0 C160.0,148.3 156.0,145.7 152.0,145.0 C148.0,144.3 144.4,145.7 140.0,146.0 C135.6,146.3 129.7,146.3 125.5,147.0 C121.3,147.7 118.6,148.2 115.0,150.0 C111.4,151.8 106.8,155.7 104.0,158.0 C101.2,160.3 100.3,161.7 98.0,164.0 C95.7,166.3 93.0,169.3 90.0,172.0 C87.0,174.7 84.0,177.3 80.0,180.0 C76.0,182.7 70.3,185.7 66.0,188.0 C61.7,190.3 57.3,192.0 54.0,194.0 C50.7,196.0 48.2,197.7 46.0,200.0 C43.8,202.3 41.8,206.7 41.0,208.0"/>
<path d="M43.0,215.0 C43.3,216.8 44.2,222.2 45.0,226.0 C45.8,229.8 46.8,234.0 48.0,238.0 C49.2,242.0 50.7,246.3 52.0,250.0 C53.3,253.7 53.8,256.5 56.0,260.0 C58.2,263.5 61.7,267.7 65.0,271.0 C68.3,274.3 73.0,277.2 76.0,280.0 C79.0,282.8 80.8,285.5 83.0,288.0 C85.2,290.5 87.5,293.2 89.5,295.0 C91.5,296.8 93.1,298.0 95.0,299.0 C96.9,300.0 99.0,300.3 101.0,301.0 C103.0,301.7 104.7,302.8 107.0,303.0 C109.3,303.2 112.0,302.3 115.0,302.0 C118.0,301.7 120.7,301.8 125.0,301.0 C129.3,300.2 136.2,298.5 141.0,297.5 C145.8,296.5 150.0,296.0 154.0,295.0 C158.0,294.0 161.9,293.2 165.0,291.5 C168.1,289.8 169.8,287.1 172.5,284.5 C175.2,281.9 178.4,279.0 181.3,275.8 C184.2,272.6 188.0,267.9 190.0,265.3 C192.0,262.7 192.0,262.3 193.5,260.0 C195.0,257.7 197.3,254.8 198.8,251.3 C200.3,247.8 201.1,243.4 202.3,239.0 C203.5,234.6 205.2,229.2 205.8,225.0 C206.4,220.8 206.0,215.8 206.0,214.0"/>
<path d="M47.0,236.0 C47.6,238.0 49.2,244.3 50.5,248.0 C51.8,251.7 53.2,255.0 55.0,258.0 C56.8,261.0 58.5,263.5 61.0,266.0 C63.5,268.5 66.5,270.7 70.0,273.0 C73.5,275.3 78.8,277.8 82.0,280.0 C85.2,282.2 86.8,284.2 89.0,286.0 C91.2,287.8 92.3,289.7 95.0,290.5 C97.7,291.3 101.7,291.6 105.0,291.0 C108.3,290.4 111.7,288.0 115.0,287.0 C118.3,286.0 121.7,285.3 125.0,285.0 C128.3,284.7 131.2,285.1 135.0,285.0 C138.8,284.9 144.2,284.8 147.5,284.4 C150.8,284.0 152.1,283.6 155.0,282.5 C157.9,281.4 162.1,279.2 165.0,277.5 C167.9,275.8 169.8,274.6 172.5,272.3 C175.2,270.0 179.2,266.1 181.3,263.5 C183.4,260.9 184.1,259.4 184.8,256.5 C185.5,253.6 185.3,249.5 185.6,246.0 C185.9,242.5 186.1,239.0 186.5,235.5 C186.9,232.0 187.9,227.6 188.3,225.0 C188.7,222.4 189.1,221.5 189.0,220.0 C188.9,218.5 188.8,217.8 188.0,216.0 C187.2,214.2 185.7,211.0 184.0,209.0 C182.3,207.0 179.9,205.5 178.0,204.0 C176.1,202.5 175.1,200.5 172.5,200.0 C169.9,199.5 165.8,200.6 162.5,201.2 C159.2,201.9 155.8,202.7 152.5,203.8 C149.2,204.8 145.4,205.6 142.5,207.5 C139.6,209.4 137.4,212.6 135.0,215.0 C132.6,217.4 129.7,219.5 128.0,222.0 C126.3,224.5 125.3,227.5 125.0,230.0 C124.7,232.5 126.0,235.8 126.2,237.0"/>
<path d="M280.0,189.0 C280.8,191.7 283.3,200.2 285.0,205.0 C286.7,209.8 288.5,213.0 290.0,218.0 C291.5,223.0 293.2,229.7 294.0,235.0 C294.8,240.3 295.7,245.0 295.0,250.0 C294.3,255.0 292.2,259.8 290.0,265.0 C287.8,270.2 285.3,275.7 282.0,281.0 C278.7,286.3 273.7,293.2 270.0,297.0 C266.3,300.8 263.7,301.7 260.0,304.0 C256.3,306.3 251.6,308.1 247.8,311.0 C244.0,313.9 240.5,318.0 237.3,321.5 C234.1,325.0 231.7,328.8 228.5,332.0 C225.3,335.2 221.5,337.9 218.0,340.8 C214.5,343.7 211.0,347.2 207.5,349.5 C204.0,351.8 200.8,353.6 197.0,354.8 C193.2,356.1 189.3,356.5 185.0,357.0 C180.7,357.5 175.8,357.6 171.3,357.7 C166.8,357.8 162.3,358.2 158.0,357.5 C153.7,356.8 149.7,355.2 145.5,353.8 C141.3,352.3 136.8,350.3 133.0,348.8 C129.2,347.2 126.1,345.4 123.0,344.4 C119.9,343.4 117.4,342.5 114.2,342.5 C111.1,342.5 105.9,344.1 104.2,344.4"/>
<path d="M188.0,181.0 C187.8,180.2 188.0,177.3 187.0,176.0 C186.0,174.7 184.2,173.3 182.0,173.0 C179.8,172.7 176.3,174.3 174.0,174.0 C171.7,173.7 170.3,171.2 168.0,171.0 C165.7,170.8 163.3,172.7 160.0,173.0 C156.7,173.3 151.3,172.5 148.0,173.0 C144.7,173.5 142.8,173.5 140.0,176.0 C137.2,178.5 134.0,184.0 131.0,188.0 C128.0,192.0 125.0,196.5 122.0,200.0 C119.0,203.5 116.5,206.0 113.0,209.0 C109.5,212.0 104.2,215.0 101.0,218.0 C97.8,221.0 95.2,223.0 93.5,227.0 C91.8,231.0 90.9,237.5 90.5,242.0 C90.1,246.5 90.2,250.8 91.0,254.0 C91.8,257.2 93.5,259.4 95.0,261.2 C96.5,263.1 98.4,263.8 100.0,265.0 C101.6,266.2 103.6,267.5 104.4,268.8 C105.2,270.0 105.3,271.0 105.0,272.5 C104.7,274.0 103.8,276.0 102.5,277.5 C101.2,279.0 99.2,280.2 97.0,281.5 C94.8,282.8 90.3,284.4 89.0,285.0"/>
<path d="M117.0,246.0 C117.2,247.7 117.9,253.2 118.0,256.0 C118.1,258.8 118.2,260.2 117.5,262.5 C116.8,264.8 115.0,267.7 113.8,270.0 C112.5,272.3 111.7,274.4 110.0,276.2 C108.3,278.1 106.1,279.8 103.8,281.2 C101.4,282.7 97.3,284.4 96.0,285.0"/>
<path d="M126.2,237.5 C126.2,235.7 130.2,234.2 132.5,232.5 C134.8,230.8 137.9,229.6 140.0,227.5 C142.1,225.4 144.6,222.5 145.0,220.0 C145.4,217.5 142.8,214.8 142.5,212.5 C142.2,210.2 141.8,207.7 143.0,206.2 C144.2,204.8 147.2,204.4 150.0,204.0 C152.8,203.6 157.0,203.6 160.0,203.8 C163.0,203.9 165.1,204.0 168.0,205.0 C170.9,206.0 175.5,207.5 177.5,210.0 C179.5,212.5 180.4,216.2 180.0,220.0 C179.6,223.8 177.1,228.8 175.0,232.5 C172.9,236.2 170.7,240.1 167.5,242.5 C164.3,244.9 159.3,245.8 156.0,247.0 C152.7,248.2 150.2,249.8 147.5,250.0 C144.8,250.2 142.5,249.6 140.0,248.5 C137.5,247.4 134.8,245.3 132.5,243.5 C130.2,241.7 126.2,239.3 126.2,237.5Z"/>
<path d="M100.5,318.0 C101.2,318.2 106.6,320.6 108.0,320.5 C109.4,320.4 113.1,317.1 114.2,317.0 C115.4,316.9 118.1,319.1 119.2,319.5 C120.4,319.9 124.9,321.3 125.5,321.5"/>
<path d="M101.0,326.0 C101.7,326.1 106.7,327.3 108.0,327.5 C109.3,327.7 113.1,328.1 114.2,328.0 C115.4,327.9 118.2,326.5 119.2,326.5 C120.2,326.5 123.0,327.8 124.2,328.0 C125.5,328.2 131.0,328.9 131.8,329.0"/>
</g>
<g fill="none" stroke="#0c3519" stroke-width="1.5" stroke-linecap="round" stroke-linejoin="round" clip-path="url(#gridclip)">
<path d="M268.0,142.0 C267.7,140.3 266.8,135.7 266.0,132.0 C265.2,128.3 264.0,124.0 263.0,120.0 C262.0,116.0 261.2,111.0 260.0,108.0 C258.8,105.0 258.3,104.3 256.0,102.0 C253.7,99.7 249.3,97.0 246.0,94.0 C242.7,91.0 239.0,86.7 236.0,84.0 C233.0,81.3 231.5,80.3 228.0,78.0 C224.5,75.7 218.8,72.2 215.0,70.0 C211.2,67.8 209.6,66.0 205.0,65.0 C200.4,64.0 192.0,65.1 187.5,64.0 C183.0,62.9 181.2,60.6 177.9,58.6 C174.6,56.6 171.0,54.2 167.5,52.3 C164.0,50.4 160.2,48.2 157.1,47.2 C154.0,46.2 152.2,45.9 148.8,46.1 C145.4,46.3 140.5,47.2 136.4,48.2 C132.3,49.2 128.2,50.6 124.0,52.3 C119.8,54.0 115.3,56.7 111.5,58.6 C107.7,60.5 104.5,62.1 101.0,63.8 C97.5,65.5 93.5,67.5 90.7,69.0 C87.9,70.5 86.2,71.5 84.0,73.0 C81.8,74.5 78.6,77.2 77.5,78.0"/>
<path d="M243.0,150.0 C242.5,148.3 241.3,142.8 240.0,140.0 C238.7,137.2 237.5,135.9 235.0,133.0 C232.5,130.1 227.9,125.5 225.0,122.5 C222.1,119.5 220.0,117.5 217.5,115.0 C215.0,112.5 212.9,110.4 210.0,107.5 C207.1,104.6 203.8,100.6 200.0,97.5 C196.2,94.4 191.7,90.2 187.5,89.0 C183.3,87.8 179.2,90.8 175.0,90.0 C170.8,89.2 166.7,86.1 162.5,84.0 C158.3,81.9 155.4,77.5 150.0,77.5 C144.6,77.5 136.2,81.9 130.0,84.0 C123.8,86.1 117.5,88.3 112.5,90.0 C107.5,91.7 103.8,92.8 100.0,94.0 C96.2,95.2 93.2,95.4 90.0,97.5 C86.8,99.6 83.8,104.2 81.0,106.5 C78.2,108.8 76.0,109.8 73.5,111.0 C71.0,112.2 67.2,113.5 66.0,114.0"/>
<path d="M77.5,78.0 C77.2,79.3 76.2,83.5 75.5,86.0 C74.8,88.5 74.6,90.8 73.5,93.0 C72.4,95.2 70.4,96.8 69.0,99.0 C67.6,101.2 66.4,104.0 65.2,106.5 C64.1,109.0 63.4,111.5 62.2,114.0 C61.1,116.5 59.9,118.8 58.5,121.5 C57.1,124.2 55.5,127.5 54.0,130.5 C52.5,133.5 50.9,136.2 49.5,139.5 C48.1,142.8 47.2,146.1 45.5,150.0 C43.8,153.9 41.2,158.7 39.5,163.0 C37.8,167.3 36.1,171.5 35.0,176.0 C33.9,180.5 33.3,185.2 33.0,190.0 C32.7,194.8 32.8,200.0 33.0,205.0 C33.2,210.0 33.5,215.5 34.0,220.0 C34.5,224.5 35.1,227.8 36.0,232.0 C36.9,236.2 38.4,240.3 39.5,245.0 C40.6,249.7 40.9,255.7 42.5,260.0 C44.1,264.3 46.8,267.7 49.0,271.0 C51.2,274.3 53.7,277.2 56.0,280.0 C58.3,282.8 60.5,285.5 63.0,288.0 C65.5,290.5 68.5,292.8 71.0,295.0 C73.5,297.2 75.8,299.2 78.0,301.0 C80.2,302.8 82.2,304.3 84.0,306.0 C85.8,307.7 87.3,309.3 89.0,311.0 C90.7,312.7 92.5,314.3 94.0,316.0 C95.5,317.7 96.9,319.3 98.0,321.0 C99.1,322.7 99.8,324.3 100.5,326.0 C101.2,327.7 101.9,329.2 102.5,331.0 C103.1,332.8 101.9,336.2 104.2,336.9 C106.6,337.6 112.6,335.2 116.8,335.0 C120.9,334.8 125.1,335.2 129.2,335.6 C133.4,336.0 137.4,336.9 141.8,337.5 C146.1,338.1 150.8,339.0 155.2,339.0 C159.6,339.0 162.8,338.7 168.2,337.5 C173.6,336.3 181.8,333.8 187.8,332.0 C193.8,330.2 199.6,329.3 204.0,327.0 C208.4,324.7 211.3,320.8 214.0,318.0 C216.7,315.2 218.1,312.9 220.4,310.0 C222.7,307.1 225.4,303.5 228.0,300.5 C230.6,297.5 233.3,294.4 236.0,292.0 C238.7,289.6 241.8,287.3 244.0,286.0 C246.2,284.7 248.3,285.0 249.0,284.0 C249.7,283.0 247.8,281.7 248.0,280.0 C248.2,278.3 248.3,277.0 250.0,274.0 C251.7,271.0 256.0,265.7 258.0,262.0 C260.0,258.3 260.8,256.1 262.0,252.0 C263.2,247.9 264.1,242.0 265.0,237.5 C265.9,233.0 267.5,228.6 267.5,225.0 C267.5,221.4 266.1,218.8 265.0,216.0 C263.9,213.2 261.9,211.3 261.0,208.0 C260.1,204.7 259.8,198.0 259.5,196.0"/>
<path d="M66.0,114.0 C65.3,115.0 63.5,117.2 62.0,120.0 C60.5,122.8 58.6,127.0 57.0,130.5 C55.4,134.0 53.8,137.8 52.5,141.0 C51.2,144.2 50.4,146.3 49.0,150.0 C47.6,153.7 45.6,158.7 44.0,163.0 C42.4,167.3 40.8,171.5 39.5,176.0 C38.2,180.5 37.1,185.2 36.5,190.0 C35.9,194.8 35.9,200.0 36.0,205.0 C36.1,210.0 36.4,215.3 37.0,220.0 C37.6,224.7 38.5,228.7 39.5,233.0 C40.5,237.3 41.8,241.5 43.0,246.0 C44.2,250.5 44.8,255.8 46.5,260.0 C48.2,264.2 50.6,267.7 53.0,271.0 C55.4,274.3 58.5,277.2 61.0,280.0 C63.5,282.8 65.7,285.5 68.0,288.0 C70.3,290.5 72.7,292.7 75.0,295.0 C77.3,297.3 79.7,299.7 82.0,302.0 C84.3,304.3 86.8,306.8 89.0,309.0 C91.2,311.2 93.2,313.2 95.0,315.0 C96.8,316.8 98.3,318.4 100.0,320.0 C101.7,321.6 102.8,323.1 105.0,324.5 C107.2,325.9 109.7,327.6 113.0,328.5 C116.3,329.4 121.7,329.8 125.0,330.0 C128.3,330.2 130.2,330.2 133.0,330.0 C135.8,329.8 138.8,329.3 141.8,328.8 C144.7,328.2 147.8,327.5 150.5,326.9 C153.2,326.3 154.8,325.8 158.0,325.0 C161.2,324.2 166.1,323.7 170.0,322.0 C173.9,320.3 178.0,317.2 181.3,315.0 C184.6,312.8 187.4,310.8 190.0,309.0 C192.6,307.2 194.1,306.0 197.0,304.0 C199.9,302.0 204.3,299.3 207.5,297.0 C210.7,294.7 213.4,292.7 216.3,290.0 C219.2,287.3 222.1,285.2 224.8,281.0 C227.4,276.8 229.5,270.2 232.5,265.0 C235.5,259.8 240.6,254.2 242.5,250.0 C244.4,245.8 243.6,244.2 244.0,240.0 C244.4,235.8 245.2,230.0 245.0,225.0 C244.8,220.0 243.8,216.2 242.5,210.0 C241.2,203.8 239.2,194.2 237.5,187.5 C235.8,180.8 234.2,175.1 232.5,170.0 C230.8,164.9 228.8,159.8 227.0,157.0 C225.2,154.2 223.6,155.2 221.8,153.0 C220.0,150.8 217.8,147.0 216.0,144.0 C214.2,141.0 213.6,136.9 211.3,135.0 C209.1,133.1 205.4,133.5 202.5,132.5 C199.6,131.5 196.7,130.2 193.8,129.0 C190.8,127.8 188.1,127.3 185.0,125.5 C181.9,123.7 178.4,120.9 175.0,118.0 C171.6,115.1 168.5,111.0 164.7,108.0 C160.9,105.0 156.4,101.3 152.0,100.0 C147.6,98.7 142.4,99.1 138.0,100.0 C133.6,100.9 130.5,103.5 125.5,105.3 C120.5,107.1 113.7,109.0 107.8,110.7 C101.9,112.4 94.7,114.0 90.0,115.5 C85.3,117.0 82.8,118.0 79.5,120.0 C76.2,122.0 72.8,125.0 70.5,127.5 C68.2,130.0 67.8,133.0 66.0,135.0 C64.2,137.0 61.8,137.8 60.0,139.5 C58.2,141.2 56.7,143.2 55.0,145.0 C53.3,146.8 51.2,148.7 50.0,150.0 C48.8,151.3 47.9,152.5 47.5,153.0"/>
<path d="M213.9,166.0 C213.5,165.1 212.6,162.9 211.3,160.5 C210.0,158.1 208.1,154.1 206.0,151.8 C203.9,149.4 201.3,148.0 199.0,146.5 C196.7,145.0 193.2,143.6 192.0,143.0"/>
<path d="M37.5,200.0 C37.7,201.0 38.2,203.8 38.5,206.0 C38.8,208.2 39.1,210.0 39.5,213.0 C39.9,216.0 40.2,220.2 41.0,224.0 C41.8,227.8 43.0,232.0 44.0,236.0 C45.0,240.0 46.0,244.0 47.0,248.0 C48.0,252.0 48.3,256.2 50.0,260.0 C51.7,263.8 54.2,267.7 57.0,271.0 C59.8,274.3 64.2,277.2 67.0,280.0 C69.8,282.8 71.8,285.5 74.0,288.0 C76.2,290.5 78.3,292.8 80.5,295.0 C82.7,297.2 84.9,299.0 87.0,301.0 C89.1,303.0 91.2,305.0 93.0,307.0 C94.8,309.0 96.3,311.3 98.0,313.0 C99.7,314.7 100.8,315.7 103.0,317.0 C105.2,318.3 108.3,320.0 111.0,321.0 C113.7,322.0 116.7,322.6 119.0,323.0 C121.3,323.4 122.2,323.3 125.0,323.5 C127.8,323.7 131.7,324.8 135.5,324.4 C139.3,324.0 144.2,322.4 148.0,321.2 C151.8,320.1 154.3,318.7 158.0,317.5 C161.7,316.3 166.1,315.9 170.0,314.0 C173.9,312.1 178.0,308.3 181.3,306.0 C184.6,303.7 187.1,302.1 190.0,300.0 C192.9,297.9 195.9,296.2 198.8,293.3 C201.7,290.4 204.3,286.6 207.5,282.8 C210.7,279.0 215.1,274.0 218.0,270.5 C220.9,267.0 223.4,264.8 225.0,261.8 C226.6,258.8 226.5,256.6 227.5,252.5 C228.5,248.4 230.2,243.8 231.0,237.5 C231.8,231.2 232.4,219.7 232.5,215.0 C232.6,210.3 232.4,211.7 231.8,209.4 C231.1,207.2 229.0,202.8 228.4,201.5"/>
<path d="M147.0,118.7 C146.1,118.5 143.0,118.1 141.5,117.8 C140.0,117.5 140.7,116.6 138.0,117.0 C135.3,117.4 129.7,119.4 125.5,120.4 C121.3,121.4 117.1,121.7 113.0,123.0 C108.9,124.3 104.5,126.2 100.7,128.4 C96.9,130.6 93.5,133.9 90.0,136.0 C86.5,138.1 83.3,139.3 80.0,141.0 C76.7,142.7 73.3,144.5 70.0,146.0 C66.7,147.5 63.0,148.7 60.0,150.0 C57.0,151.3 54.2,152.7 52.0,154.0 C49.8,155.3 48.3,156.5 47.0,158.0 C45.7,159.5 44.5,162.2 44.0,163.0"/>
<path d="M41.0,208.0 C41.2,210.0 41.4,215.8 42.0,220.0 C42.6,224.2 43.5,228.7 44.5,233.0 C45.5,237.3 46.7,241.5 48.0,246.0 C49.3,250.5 50.3,255.8 52.5,260.0 C54.7,264.2 57.8,267.7 61.0,271.0 C64.2,274.3 68.7,277.2 71.5,280.0 C74.3,282.8 75.8,285.5 78.0,288.0 C80.2,290.5 82.8,292.8 85.0,295.0 C87.2,297.2 89.1,299.0 91.0,301.0 C92.9,303.0 94.8,305.3 96.5,307.0 C98.2,308.7 98.9,309.8 101.0,311.0 C103.1,312.2 106.3,313.7 109.0,314.0 C111.7,314.3 114.3,313.3 117.0,313.0 C119.7,312.7 121.5,312.1 125.0,312.0 C128.5,311.9 133.7,312.5 138.0,312.2 C142.3,311.9 146.3,311.1 151.0,310.3 C155.7,309.5 160.9,309.2 166.0,307.5 C171.1,305.8 177.3,302.1 181.3,300.0 C185.3,297.9 187.7,297.1 190.0,295.0 C192.3,292.9 192.7,291.3 195.3,287.5 C197.9,283.7 203.4,276.2 205.8,272.0 C208.2,267.8 208.8,265.2 210.0,262.0 C211.2,258.8 211.8,256.8 212.8,253.0 C213.9,249.2 215.4,243.7 216.3,239.0 C217.2,234.3 217.9,229.0 218.0,225.0 C218.1,221.0 217.2,218.5 217.0,215.0 C216.8,211.5 217.5,206.6 217.0,203.8 C216.5,200.9 215.4,199.9 213.8,198.0 C212.1,196.1 208.5,194.3 207.0,192.5 C205.5,190.7 205.5,189.3 204.7,186.9 C203.9,184.5 203.4,181.2 202.0,178.0 C200.6,174.8 198.0,170.7 196.0,168.0 C194.0,165.3 192.3,163.5 190.0,162.0 C187.7,160.5 184.3,160.2 182.0,159.0 C179.7,157.8 179.0,156.5 176.0,155.0 C173.0,153.5 168.0,151.7 164.0,150.0 C160.0,148.3 156.0,145.7 152.0,145.0 C148.0,144.3 144.4,145.7 140.0,146.0 C135.6,146.3 129.7,146.3 125.5,147.0 C121.3,147.7 118.6,148.2 115.0,150.0 C111.4,151.8 106.8,155.7 104.0,158.0 C101.2,160.3 100.3,161.7 98.0,164.0 C95.7,166.3 93.0,169.3 90.0,172.0 C87.0,174.7 84.0,177.3 80.0,180.0 C76.0,182.7 70.3,185.7 66.0,188.0 C61.7,190.3 57.3,192.0 54.0,194.0 C50.7,196.0 48.2,197.7 46.0,200.0 C43.8,202.3 41.8,206.7 41.0,208.0"/>
<path d="M43.0,215.0 C43.3,216.8 44.2,222.2 45.0,226.0 C45.8,229.8 46.8,234.0 48.0,238.0 C49.2,242.0 50.7,246.3 52.0,250.0 C53.3,253.7 53.8,256.5 56.0,260.0 C58.2,263.5 61.7,267.7 65.0,271.0 C68.3,274.3 73.0,277.2 76.0,280.0 C79.0,282.8 80.8,285.5 83.0,288.0 C85.2,290.5 87.5,293.2 89.5,295.0 C91.5,296.8 93.1,298.0 95.0,299.0 C96.9,300.0 99.0,300.3 101.0,301.0 C103.0,301.7 104.7,302.8 107.0,303.0 C109.3,303.2 112.0,302.3 115.0,302.0 C118.0,301.7 120.7,301.8 125.0,301.0 C129.3,300.2 136.2,298.5 141.0,297.5 C145.8,296.5 150.0,296.0 154.0,295.0 C158.0,294.0 161.9,293.2 165.0,291.5 C168.1,289.8 169.8,287.1 172.5,284.5 C175.2,281.9 178.4,279.0 181.3,275.8 C184.2,272.6 188.0,267.9 190.0,265.3 C192.0,262.7 192.0,262.3 193.5,260.0 C195.0,257.7 197.3,254.8 198.8,251.3 C200.3,247.8 201.1,243.4 202.3,239.0 C203.5,234.6 205.2,229.2 205.8,225.0 C206.4,220.8 206.0,215.8 206.0,214.0"/>
<path d="M47.0,236.0 C47.6,238.0 49.2,244.3 50.5,248.0 C51.8,251.7 53.2,255.0 55.0,258.0 C56.8,261.0 58.5,263.5 61.0,266.0 C63.5,268.5 66.5,270.7 70.0,273.0 C73.5,275.3 78.8,277.8 82.0,280.0 C85.2,282.2 86.8,284.2 89.0,286.0 C91.2,287.8 92.3,289.7 95.0,290.5 C97.7,291.3 101.7,291.6 105.0,291.0 C108.3,290.4 111.7,288.0 115.0,287.0 C118.3,286.0 121.7,285.3 125.0,285.0 C128.3,284.7 131.2,285.1 135.0,285.0 C138.8,284.9 144.2,284.8 147.5,284.4 C150.8,284.0 152.1,283.6 155.0,282.5 C157.9,281.4 162.1,279.2 165.0,277.5 C167.9,275.8 169.8,274.6 172.5,272.3 C175.2,270.0 179.2,266.1 181.3,263.5 C183.4,260.9 184.1,259.4 184.8,256.5 C185.5,253.6 185.3,249.5 185.6,246.0 C185.9,242.5 186.1,239.0 186.5,235.5 C186.9,232.0 187.9,227.6 188.3,225.0 C188.7,222.4 189.1,221.5 189.0,220.0 C188.9,218.5 188.8,217.8 188.0,216.0 C187.2,214.2 185.7,211.0 184.0,209.0 C182.3,207.0 179.9,205.5 178.0,204.0 C176.1,202.5 175.1,200.5 172.5,200.0 C169.9,199.5 165.8,200.6 162.5,201.2 C159.2,201.9 155.8,202.7 152.5,203.8 C149.2,204.8 145.4,205.6 142.5,207.5 C139.6,209.4 137.4,212.6 135.0,215.0 C132.6,217.4 129.7,219.5 128.0,222.0 C126.3,224.5 125.3,227.5 125.0,230.0 C124.7,232.5 126.0,235.8 126.2,237.0"/>
<path d="M280.0,189.0 C280.8,191.7 283.3,200.2 285.0,205.0 C286.7,209.8 288.5,213.0 290.0,218.0 C291.5,223.0 293.2,229.7 294.0,235.0 C294.8,240.3 295.7,245.0 295.0,250.0 C294.3,255.0 292.2,259.8 290.0,265.0 C287.8,270.2 285.3,275.7 282.0,281.0 C278.7,286.3 273.7,293.2 270.0,297.0 C266.3,300.8 263.7,301.7 260.0,304.0 C256.3,306.3 251.6,308.1 247.8,311.0 C244.0,313.9 240.5,318.0 237.3,321.5 C234.1,325.0 231.7,328.8 228.5,332.0 C225.3,335.2 221.5,337.9 218.0,340.8 C214.5,343.7 211.0,347.2 207.5,349.5 C204.0,351.8 200.8,353.6 197.0,354.8 C193.2,356.1 189.3,356.5 185.0,357.0 C180.7,357.5 175.8,357.6 171.3,357.7 C166.8,357.8 162.3,358.2 158.0,357.5 C153.7,356.8 149.7,355.2 145.5,353.8 C141.3,352.3 136.8,350.3 133.0,348.8 C129.2,347.2 126.1,345.4 123.0,344.4 C119.9,343.4 117.4,342.5 114.2,342.5 C111.1,342.5 105.9,344.1 104.2,344.4"/>
<path d="M188.0,181.0 C187.8,180.2 188.0,177.3 187.0,176.0 C186.0,174.7 184.2,173.3 182.0,173.0 C179.8,172.7 176.3,174.3 174.0,174.0 C171.7,173.7 170.3,171.2 168.0,171.0 C165.7,170.8 163.3,172.7 160.0,173.0 C156.7,173.3 151.3,172.5 148.0,173.0 C144.7,173.5 142.8,173.5 140.0,176.0 C137.2,178.5 134.0,184.0 131.0,188.0 C128.0,192.0 125.0,196.5 122.0,200.0 C119.0,203.5 116.5,206.0 113.0,209.0 C109.5,212.0 104.2,215.0 101.0,218.0 C97.8,221.0 95.2,223.0 93.5,227.0 C91.8,231.0 90.9,237.5 90.5,242.0 C90.1,246.5 90.2,250.8 91.0,254.0 C91.8,257.2 93.5,259.4 95.0,261.2 C96.5,263.1 98.4,263.8 100.0,265.0 C101.6,266.2 103.6,267.5 104.4,268.8 C105.2,270.0 105.3,271.0 105.0,272.5 C104.7,274.0 103.8,276.0 102.5,277.5 C101.2,279.0 99.2,280.2 97.0,281.5 C94.8,282.8 90.3,284.4 89.0,285.0"/>
<path d="M117.0,246.0 C117.2,247.7 117.9,253.2 118.0,256.0 C118.1,258.8 118.2,260.2 117.5,262.5 C116.8,264.8 115.0,267.7 113.8,270.0 C112.5,272.3 111.7,274.4 110.0,276.2 C108.3,278.1 106.1,279.8 103.8,281.2 C101.4,282.7 97.3,284.4 96.0,285.0"/>
<path d="M126.2,237.5 C126.2,235.7 130.2,234.2 132.5,232.5 C134.8,230.8 137.9,229.6 140.0,227.5 C142.1,225.4 144.6,222.5 145.0,220.0 C145.4,217.5 142.8,214.8 142.5,212.5 C142.2,210.2 141.8,207.7 143.0,206.2 C144.2,204.8 147.2,204.4 150.0,204.0 C152.8,203.6 157.0,203.6 160.0,203.8 C163.0,203.9 165.1,204.0 168.0,205.0 C170.9,206.0 175.5,207.5 177.5,210.0 C179.5,212.5 180.4,216.2 180.0,220.0 C179.6,223.8 177.1,228.8 175.0,232.5 C172.9,236.2 170.7,240.1 167.5,242.5 C164.3,244.9 159.3,245.8 156.0,247.0 C152.7,248.2 150.2,249.8 147.5,250.0 C144.8,250.2 142.5,249.6 140.0,248.5 C137.5,247.4 134.8,245.3 132.5,243.5 C130.2,241.7 126.2,239.3 126.2,237.5Z"/>
<path d="M100.5,318.0 C101.2,318.2 106.6,320.6 108.0,320.5 C109.4,320.4 113.1,317.1 114.2,317.0 C115.4,316.9 118.1,319.1 119.2,319.5 C120.4,319.9 124.9,321.3 125.5,321.5"/>
<path d="M101.0,326.0 C101.7,326.1 106.7,327.3 108.0,327.5 C109.3,327.7 113.1,328.1 114.2,328.0 C115.4,327.9 118.2,326.5 119.2,326.5 C120.2,326.5 123.0,327.8 124.2,328.0 C125.5,328.2 131.0,328.9 131.8,329.0"/>
</g>
<path d="M121.9,43.0 C126.1,42.1 128.4,40.3 132.2,38.9 C136.0,37.5 140.5,36.3 144.7,34.7 C148.8,33.1 153.6,31.4 157.1,29.5 C160.6,27.6 162.6,24.7 165.4,23.3 C168.2,21.9 170.6,21.4 173.7,21.2 C176.8,21.0 180.6,21.6 184.1,22.3 C187.6,23.0 191.8,24.7 194.5,25.4 C197.2,26.1 197.6,25.9 200.0,26.5 C202.4,27.1 206.0,28.1 209.0,29.0 C212.0,29.9 215.0,31.0 218.0,32.0 C221.0,33.0 224.8,33.8 227.0,35.0 C229.2,36.2 230.2,38.0 231.5,39.5 C232.8,41.0 233.2,42.5 234.5,44.0 C235.8,45.5 237.5,47.0 239.0,48.5 C240.5,50.0 242.5,51.2 243.5,53.0 C244.5,54.8 244.0,57.2 245.0,59.0 C246.0,60.8 248.0,62.0 249.5,63.5 C251.0,65.0 252.5,65.8 254.0,68.0 C255.5,70.2 257.2,73.7 258.5,77.0 C259.8,80.3 260.8,84.2 262.0,88.0 C263.2,91.8 264.2,97.0 266.0,100.0 C267.8,103.0 271.2,102.7 273.0,106.0 C274.8,109.3 275.8,115.7 277.0,120.0 C278.2,124.3 279.1,128.7 280.0,132.0 C280.9,135.3 281.2,136.2 282.5,140.0 C283.8,143.8 286.1,150.0 287.5,155.0 C288.9,160.0 289.8,165.0 291.0,170.0 C292.2,175.0 293.9,180.0 295.0,185.0 C296.1,190.0 296.9,193.3 297.5,200.0 C298.1,206.7 298.3,216.7 298.8,225.0 C299.2,233.3 299.7,242.5 300.0,250.0 C300.3,257.5 300.6,264.8 300.4,270.0 C300.2,275.2 300.1,277.3 299.0,281.0 C297.9,284.7 296.2,288.3 293.5,292.0 C290.8,295.7 286.2,299.3 282.5,303.0 C278.8,306.7 275.2,310.8 271.5,314.0 C267.8,317.2 264.2,318.8 260.5,322.0 C256.8,325.2 252.8,329.8 249.5,333.0 C246.2,336.2 244.2,338.2 241.0,341.5 C237.8,344.8 233.7,349.2 230.0,352.5 C226.3,355.8 222.7,358.8 219.0,361.0 C215.3,363.2 211.2,364.4 208.0,366.0 C204.8,367.6 203.5,368.4 200.0,370.4 C196.5,372.4 192.2,376.2 187.0,378.0 C181.8,379.8 175.2,381.3 169.0,381.0 C162.8,380.7 155.0,377.8 150.0,376.0 C145.0,374.2 142.0,371.9 138.8,370.4 C135.6,368.9 133.4,368.8 130.7,367.2 C128.0,365.6 125.2,362.4 122.5,360.6 C119.8,358.8 117.2,357.7 114.4,356.6 C111.6,355.6 107.5,355.2 105.5,354.3 C103.5,353.4 103.0,354.0 102.4,351.0 C101.9,348.0 102.4,340.1 102.2,336.3 C102.0,332.5 101.8,330.6 101.2,328.0 C100.6,325.4 100.0,323.0 98.5,321.0 C97.0,319.0 94.6,318.3 92.0,316.0 C89.4,313.7 86.5,310.0 83.0,307.0 C79.5,304.0 75.0,301.0 71.0,298.0 C67.0,295.0 61.9,290.9 59.0,289.0 C56.1,287.1 55.7,287.1 53.8,286.5 C51.8,285.9 49.3,286.0 47.5,285.6 C45.7,285.2 43.4,284.9 43.0,284.0 C42.6,283.1 43.8,281.1 45.0,280.0 C46.2,278.9 49.8,279.2 50.0,277.5 C50.2,275.8 46.9,271.9 46.0,270.0 C45.1,268.1 44.9,267.7 44.4,266.0 C43.9,264.3 44.1,261.8 43.0,260.0 C41.9,258.2 38.8,256.5 37.5,255.0 C36.2,253.5 35.3,252.7 35.0,251.0 C34.7,249.3 35.8,246.8 35.6,245.0 C35.4,243.2 34.6,242.8 33.8,240.0 C32.9,237.2 31.3,232.2 30.5,228.0 C29.7,223.8 29.3,220.5 29.0,215.0 C28.7,209.5 28.6,200.4 28.8,195.0 C28.9,189.6 29.4,186.2 30.0,182.5 C30.6,178.8 30.8,176.7 32.5,172.5 C34.2,168.3 37.6,162.8 40.0,157.5 C42.4,152.2 45.0,145.6 47.0,141.0 C49.0,136.4 50.0,134.3 52.0,130.0 C54.0,125.7 56.4,119.6 59.0,115.0 C61.6,110.4 65.0,106.7 67.5,102.5 C70.0,98.3 72.8,93.8 74.0,90.0 C75.2,86.2 74.7,83.8 75.0,80.0 C75.3,76.2 75.5,71.1 76.0,67.5 C76.5,63.9 77.2,61.0 78.3,58.6 C79.4,56.2 80.3,55.0 82.4,53.4 C84.5,51.8 86.6,50.8 90.7,49.2 C94.8,47.6 102.1,45.0 107.3,44.0 C112.5,43.0 117.8,43.9 121.9,43.0Z" fill="none" stroke="#000" stroke-width="2.2"/>
<path d="M262,100.5 L241,113.75 L225,125 L210,136 L200,142.5 L189.5,153" fill="none" stroke="#0b2a14" stroke-width="2.1" stroke-dasharray="7,4"/>
<path d="M147,118.7 C152,119.5 157.5,121.3 162,123.5 C168,127 174,132 180.7,139 C184,142 187,145 190,150" fill="none" stroke="#000" stroke-width="1.3" stroke-dasharray="1,1.6"/>
<circle cx="222.5" cy="40" r="5" fill="#000"/>

<g fill="#1a1a1a" font-size="9.8" stroke="#1a1a1a" stroke-width="0.25">
<text x="129.5" y="17.1" textLength="70" lengthAdjust="spacingAndGlyphs">Pointe Goodenough</text>
<text x="219.5" y="17.1" textLength="50.3" lengthAdjust="spacingAndGlyphs">Scientific base</text>
<text x="217.2" y="28" textLength="55.7" lengthAdjust="spacingAndGlyphs">Martin de Viviès</text>
<text x="17.1" y="290.6" textLength="22.1" lengthAdjust="spacingAndGlyphs">Pointe</text>
<text x="1.9" y="302.2" textLength="52.2" lengthAdjust="spacingAndGlyphs">d'Entrecasteau</text>
<text x="127.75" y="260.4" textLength="36.3" lengthAdjust="spacingAndGlyphs">Mont de la</text>
<text x="136.25" y="271.9" textLength="19.4" lengthAdjust="spacingAndGlyphs">Dives</text>
<text transform="translate(99.7,140.3) rotate(-11)" font-size="8" textLength="39.8" lengthAdjust="spacingAndGlyphs">Fence 1992</text>
<rect transform="translate(216.5,149) rotate(-36)" x="-5" y="-8" width="48" height="10.5" fill="#a3d1a3" stroke="none"/><text transform="translate(216.5,149) rotate(-36)" font-size="9.3" textLength="42" lengthAdjust="spacingAndGlyphs">Fence 1987</text>
</g>
<g fill="#a3d1a3" font-size="14.5" text-anchor="middle" stroke="#a3d1a3" stroke-width="3.5" stroke-linejoin="round">
<text transform="translate(272.8,164) rotate(-102.5) translate(0,5.2)" textLength="21" lengthAdjust="spacingAndGlyphs">100</text>
<text transform="translate(251.9,171) rotate(-111.8) translate(0,5.2)" textLength="21" lengthAdjust="spacingAndGlyphs">200</text>
<text transform="translate(221.4,183.5) rotate(-122.5) translate(0,5.2)" textLength="21" lengthAdjust="spacingAndGlyphs">400</text>
<text transform="translate(195.7,197.6) rotate(-125) translate(0,5.2)" textLength="21" lengthAdjust="spacingAndGlyphs">600</text>
</g>
<g fill="#000" font-size="14.5" text-anchor="middle" stroke="#000" stroke-width="0.35">
<text transform="translate(272.8,164) rotate(-102.5) translate(0,5.2)" textLength="21" lengthAdjust="spacingAndGlyphs">100</text>
<text transform="translate(251.9,171) rotate(-111.8) translate(0,5.2)" textLength="21" lengthAdjust="spacingAndGlyphs">200</text>
<text transform="translate(221.4,183.5) rotate(-122.5) translate(0,5.2)" textLength="21" lengthAdjust="spacingAndGlyphs">400</text>
<text transform="translate(195.7,197.6) rotate(-125) translate(0,5.2)" textLength="21" lengthAdjust="spacingAndGlyphs">600</text>
</g>
<path d="M148.4,240 L150.6,243.8 H146.2Z" fill="#000"/>
<text x="15.5" y="362" font-size="15" font-weight="bold" fill="#000">a</text>
<rect x="235.2" y="357.2" width="37.7" height="1.7" fill="#000"/>
<text x="244.6" y="367.4" font-size="8.6" fill="#000" textLength="16.6" lengthAdjust="spacingAndGlyphs">1 km</text>

<!-- legend -->
<rect x="288.9" y="40.2" width="22.2" height="13.5" fill="#a3d1a3"/>
<rect x="290.5" y="63.5" width="4.4" height="3.9" fill="#579a98"/>
<rect x="290.5" y="68.5" width="4.4" height="3.9" fill="#579a98"/>
<rect x="290.5" y="74.5" width="4.4" height="1.4" fill="#579a98"/>
<rect x="296.0" y="63.5" width="4.4" height="3.9" fill="#579a98"/>
<rect x="296.0" y="68.5" width="4.4" height="3.9" fill="#579a98"/>
<rect x="296.0" y="74.5" width="4.4" height="1.4" fill="#579a98"/>
<rect x="301.5" y="63.5" width="4.4" height="3.9" fill="#579a98"/>
<rect x="301.5" y="68.5" width="4.4" height="3.9" fill="#579a98"/>
<rect x="301.5" y="74.5" width="4.4" height="1.4" fill="#579a98"/>
<rect x="307.0" y="63.5" width="4.4" height="3.9" fill="#579a98"/>
<rect x="307.0" y="68.5" width="4.4" height="3.9" fill="#579a98"/>
<rect x="307.0" y="74.5" width="4.4" height="1.4" fill="#579a98"/>
<rect x="289.5" y="84" width="23" height="14.5" fill="#fdeeee"/>
<path d="M290.6,84.9 l3.8,3.4 M294.4,84.9 l-3.8,3.4 M290.6,89.6 l3.8,3.4 M294.4,89.6 l-3.8,3.4 M290.6,94.3 l3.8,3.4 M294.4,94.3 l-3.8,3.4 M296.1,84.9 l3.8,3.4 M299.9,84.9 l-3.8,3.4 M296.1,89.6 l3.8,3.4 M299.9,89.6 l-3.8,3.4 M296.1,94.3 l3.8,3.4 M299.9,94.3 l-3.8,3.4 M301.6,84.9 l3.8,3.4 M305.4,84.9 l-3.8,3.4 M301.6,89.6 l3.8,3.4 M305.4,89.6 l-3.8,3.4 M301.6,94.3 l3.8,3.4 M305.4,94.3 l-3.8,3.4 M307.1,84.9 l3.8,3.4 M310.9,84.9 l-3.8,3.4 M307.1,89.6 l3.8,3.4 M310.9,89.6 l-3.8,3.4 M307.1,94.3 l3.8,3.4 M310.9,94.3 l-3.8,3.4 " stroke="#920a10" stroke-width="1.25"/>
<path d="M312.3,86 v1 M312.3,90.5 v1 M312.3,95 v1" stroke="#b33" stroke-width="0.8"/>
<g fill="#1a1a1a" font-size="9.8" stroke="#1a1a1a" stroke-width="0.25">
<text x="322.1" y="50.1" textLength="88.6" lengthAdjust="spacingAndGlyphs">Cattle distribution in 1987</text>
<text x="322.9" y="71.7" textLength="88.2" lengthAdjust="spacingAndGlyphs">Cattle distribution in 1993</text>
<text x="321.5" y="90" textLength="71.5" lengthAdjust="spacingAndGlyphs">Breeding area of the</text>
<text x="320" y="100.4" textLength="74.7" lengthAdjust="spacingAndGlyphs">Amsterdam albatross</text>
</g>

<!-- ===== Panel b ===== -->
<g id="world">
<path d="M480,1.9 H620 C645,1.9 655,30 652.8,56.7 C651,82 642,104 620.2,111.4 H480.4 C455,110 436,85 433.2,56.7 C436,28 455,1.9 480,1.9Z" fill="#fff" stroke="#e2e2e2" stroke-width="0.9"/>
<path d="M459.0,15.8 C459.2,15.3 464.2,11.6 465.0,11.2 C465.8,10.9 470.0,10.5 471.0,10.5 C472.0,10.5 479.0,11.3 480.0,11.2 C481.0,11.2 485.2,9.2 486.0,9.0 C486.8,8.8 491.1,7.7 492.0,7.5 C492.9,7.3 498.6,6.2 499.5,6.0 C500.4,5.8 504.8,5.2 505.5,5.2 C506.2,5.3 509.8,7.0 510.0,7.5 C510.2,8.0 508.9,11.5 508.5,12.0 C508.1,12.5 504.1,14.5 504.0,15.0 C503.9,15.5 507.4,18.9 507.8,19.5 C508.1,20.1 508.9,23.6 508.5,24.0 C508.1,24.4 503.2,26.1 502.5,26.2 C501.8,26.4 498.6,26.8 498.0,27.0 C497.4,27.2 494.0,29.4 493.5,30.0 C493.0,30.6 490.8,35.3 490.5,36.0 C490.2,36.7 489.3,40.2 489.0,40.5 C488.7,40.8 486.4,39.6 486.0,39.8 C485.6,39.9 483.4,41.8 483.0,42.0 C482.6,42.2 480.1,43.2 480.0,43.5 C479.9,43.8 481.1,46.2 481.5,46.5 C481.9,46.8 485.5,47.7 486.0,48.0 C486.5,48.3 488.7,50.7 489.0,51.0 C489.3,51.3 491.0,52.8 491.0,53.0 C491.0,53.2 489.4,53.7 489.0,53.5 C488.6,53.3 485.2,50.5 484.5,50.0 C483.8,49.5 479.1,46.9 478.5,46.5 C477.9,46.1 475.2,44.0 474.8,43.5 C474.2,43.0 471.4,39.7 471.0,39.0 C470.6,38.3 468.9,33.8 468.8,33.0 C468.6,32.2 467.9,27.7 468.0,27.0 C468.1,26.3 469.6,23.1 469.5,22.5 C469.4,21.9 467.0,18.4 466.5,18.0 C466.0,17.6 462.5,17.4 462.0,17.2 C461.5,17.1 458.8,16.1 459.0,15.8Z" fill="#b3b3b3"/>
<ellipse cx="495.5" cy="18.5" rx="3.4" ry="3.4" fill="#fff"/>
<path d="M486,44.5 h5 l1,1 h-6z M493,46 h3 v1 h-3z" fill="#b3b3b3"/>
<path d="M512.0,5.0 C512.3,4.7 516.2,3.8 517.5,3.8 C518.8,3.7 530.2,4.2 531.0,4.5 C531.8,4.8 530.1,7.8 529.5,8.2 C528.9,8.8 522.8,11.5 522.0,12.0 C521.2,12.5 518.0,15.6 517.5,15.8 C517.0,15.9 514.8,14.7 514.5,14.2 C514.2,13.8 513.2,9.6 513.0,9.0 C512.8,8.4 511.7,5.3 512.0,5.0Z" fill="#b3b3b3"/>
<path d="M488.0,52.9 C488.6,52.3 494.5,50.9 495.6,51.0 C496.7,51.1 503.7,54.0 505.0,54.8 C506.3,55.6 513.9,61.3 514.4,62.3 C514.9,63.3 513.0,69.0 512.6,69.9 C512.2,70.8 509.3,74.7 508.8,75.6 C508.3,76.5 505.5,82.1 505.0,83.1 C504.5,84.1 501.6,89.9 501.2,90.7 C500.8,91.5 499.6,95.2 499.3,95.2 C499.0,95.2 497.6,91.6 497.4,90.7 C497.2,89.8 495.8,82.3 495.6,81.2 C495.4,80.1 494.1,74.6 493.7,73.7 C493.3,72.8 490.3,68.9 489.9,68.0 C489.5,67.1 487.3,61.4 487.2,60.4 C487.1,59.4 487.4,53.5 488.0,52.9Z" fill="#b3b3b3"/>
<path d="M533.3,22.7 C533.7,22.0 536.3,15.9 537.1,15.1 C537.9,14.3 543.4,11.7 544.7,11.3 C546.0,10.9 554.2,9.6 556.0,9.4 C557.8,9.2 568.8,7.8 571.1,7.6 C573.4,7.4 587.5,6.8 590.0,6.8 C592.5,6.8 606.6,8.0 608.9,8.3 C611.2,8.6 623.2,10.7 624.0,11.3 C624.8,11.9 621.0,16.5 620.2,17.0 C619.4,17.5 613.1,18.3 612.7,18.9 C612.3,19.5 614.7,25.5 614.6,26.4 C614.5,27.3 611.3,31.3 611.0,32.0 C610.7,32.7 610.1,36.5 610.0,37.5 C609.9,38.5 609.6,45.5 609.3,46.3 C609.0,47.1 606.2,49.4 605.8,49.8 C605.4,50.2 603.2,52.4 603.0,53.0 C602.8,53.6 602.7,58.9 602.5,59.0 C602.3,59.1 600.7,55.6 600.5,55.0 C600.3,54.4 599.0,50.5 598.8,49.8 C598.6,49.1 597.4,45.1 597.0,44.5 C596.6,43.9 594.0,41.1 593.5,41.0 C593.0,40.9 590.4,42.3 590.0,42.8 C589.6,43.3 587.7,47.4 587.4,48.0 C587.1,48.6 585.9,52.4 585.7,52.4 C585.5,52.4 585.1,48.8 584.8,48.0 C584.5,47.2 581.8,41.6 581.3,41.0 C580.8,40.4 578.4,39.5 577.8,39.3 C577.2,39.1 573.0,37.3 572.5,37.5 C572.0,37.7 571.1,42.2 570.8,42.8 C570.5,43.4 567.7,46.0 567.3,46.3 C566.9,46.6 565.0,48.1 564.6,48.0 C564.2,47.9 562.3,45.0 562.0,44.5 C561.7,44.0 559.7,40.7 559.4,40.1 C559.1,39.5 558.0,36.3 557.6,35.8 C557.2,35.3 554.1,32.5 553.3,32.3 C552.5,32.1 547.1,32.4 546.3,32.3 C545.5,32.2 541.8,30.5 541.0,30.5 C540.2,30.5 534.7,32.3 534.0,32.3 C533.3,32.3 531.2,30.4 531.0,30.0 C530.8,29.6 531.3,26.5 531.5,26.0 C531.7,25.5 532.9,23.4 533.3,22.7Z" fill="#b3b3b3"/>
<ellipse cx="555.3" cy="28.8" rx="2.3" ry="1.5" fill="#fff"/>
<ellipse cx="566.4" cy="29.2" rx="1.5" ry="3.5" fill="#fff"/>
<path d="M536,24 l6,3 l5,-1 l3,3 l-8,1 l-6,-2z" fill="#fff" opacity="0.0"/>
<path d="M527.9,39.3 C528.1,38.8 530.0,36.2 530.5,35.8 C531.0,35.4 534.3,33.4 535.0,33.2 C535.7,33.0 540.2,32.4 541.0,32.3 C541.8,32.2 546.2,32.3 547.0,32.3 C547.8,32.3 552.3,32.5 553.0,32.6 C553.7,32.7 557.5,33.5 558.0,34.0 C558.5,34.5 560.6,38.7 561.0,39.5 C561.4,40.3 564.1,44.8 564.5,45.5 C564.9,46.2 566.7,49.2 567.0,49.5 C567.3,49.8 569.2,50.2 569.0,50.6 C568.8,51.0 564.4,54.4 563.8,55.0 C563.2,55.6 560.7,59.5 560.3,60.3 C559.9,61.1 558.7,66.5 558.5,67.3 C558.3,68.1 557.1,71.8 556.8,72.5 C556.5,73.2 553.8,77.2 553.3,77.8 C552.8,78.4 549.4,81.2 548.9,81.3 C548.4,81.4 546.5,80.1 546.3,79.5 C546.1,78.9 545.5,73.5 545.4,72.5 C545.3,71.5 544.7,64.8 544.5,63.8 C544.3,62.8 543.3,57.4 542.8,56.8 C542.3,56.2 538.2,54.4 537.5,54.1 C536.8,53.8 532.9,52.8 532.3,52.4 C531.7,52.0 528.3,48.6 527.9,48.0 C527.5,47.4 527.0,43.4 527.0,42.8 C527.0,42.2 527.7,39.8 527.9,39.3Z" fill="#b3b3b3"/>
<path d="M564.6,67.3 C564.9,66.9 567.3,66.8 567.3,67.3 C567.3,67.8 564.9,73.9 564.6,74.3 C564.3,74.7 562.9,73.9 562.9,73.4 C562.9,72.9 564.3,67.7 564.6,67.3Z" fill="#b3b3b3"/>
<path d="M532,34.4 C535,33.6 538.5,33.1 543,33.4 C548,33.8 552,34.2 556.5,36.2" fill="none" stroke="#fff" stroke-width="1.1"/>
<path d="M556.8,36.5 C558.5,39.5 560.5,43 563,46.8 C564,48.5 565.5,50 567,50.8" fill="none" stroke="#fff" stroke-width="0.9"/>
<path d="M595.3,52.8 C595.5,52.7 598.5,55.4 599.0,56.0 C599.5,56.6 602.2,62.0 602.3,62.4 C602.4,62.8 600.9,62.8 600.5,62.5 C600.1,62.2 596.8,58.1 596.5,57.5 C596.2,56.9 595.1,52.9 595.3,52.8Z" fill="#b3b3b3"/>
<path d="M602.3,62.4 C602.7,62.3 607.3,62.9 608.0,63.0 C608.7,63.1 612.8,64.0 612.8,64.1 C612.8,64.2 608.7,64.8 608.0,64.8 C607.3,64.8 602.9,64.0 602.5,63.8 C602.1,63.6 601.9,62.5 602.3,62.4Z" fill="#b3b3b3"/>
<path d="M604.0,54.5 C604.3,54.2 607.6,53.8 608.0,54.0 C608.4,54.2 609.4,57.1 609.3,57.5 C609.2,57.9 606.9,59.8 606.5,59.8 C606.1,59.8 604.2,58.4 604.0,58.0 C603.8,57.6 603.7,54.8 604.0,54.5Z" fill="#b3b3b3"/>
<path d="M610.0,55.0 C610.2,54.8 612.9,55.2 613.0,55.5 C613.1,55.8 612.2,58.8 612.0,59.0 C611.8,59.2 610.6,58.3 610.5,58.0 C610.4,57.7 609.8,55.2 610.0,55.0Z" fill="#b3b3b3"/>
<path d="M609.3,45.8 C609.4,45.5 611.3,45.7 611.5,46.0 C611.7,46.3 612.8,49.5 612.8,50.0 C612.8,50.5 611.2,52.8 611.0,52.8 C610.8,52.8 609.9,50.5 609.8,50.0 C609.7,49.5 609.2,46.1 609.3,45.8Z" fill="#b3b3b3"/>
<path d="M618.0,58.9 C618.2,58.7 622.7,59.6 623.3,59.8 C623.9,60.0 627.5,62.2 627.6,62.4 C627.7,62.6 625.5,63.3 625.0,63.3 C624.5,63.3 620.3,62.7 619.8,62.4 C619.3,62.1 617.8,59.1 618.0,58.9Z" fill="#b3b3b3"/>
<path d="M612.8,30.0 C612.9,29.8 614.7,30.3 615.0,30.5 C615.3,30.7 617.1,32.7 617.1,33.0 C617.1,33.3 614.8,35.3 614.5,35.3 C614.2,35.3 613.1,33.9 613.0,33.5 C612.9,33.1 612.7,30.2 612.8,30.0Z" fill="#b3b3b3"/>
<path d="M604.9,73.8 C605.1,73.3 607.0,70.7 607.5,70.3 C608.0,69.9 612.2,68.7 612.8,68.5 C613.4,68.3 616.6,66.9 617.1,66.8 C617.6,66.7 619.4,67.8 619.8,67.7 C620.2,67.6 622.1,64.9 622.4,65.0 C622.7,65.1 623.9,68.0 624.2,68.5 C624.5,69.0 626.6,72.4 626.8,72.9 C627.0,73.4 627.7,75.9 627.6,76.4 C627.5,76.9 625.3,80.3 625.0,80.8 C624.7,81.3 622.9,83.2 622.4,83.4 C621.9,83.6 618.5,83.6 618.0,83.4 C617.5,83.2 615.1,80.9 614.5,80.8 C613.9,80.7 609.9,81.6 609.3,81.7 C608.7,81.8 605.3,82.0 604.9,81.7 C604.5,81.4 604.0,77.8 604.0,77.3 C604.0,76.8 604.7,74.3 604.9,73.8Z" fill="#b3b3b3"/>
<path d="M628.5,88.7 C628.6,88.5 631.5,86.9 632.0,86.5 C632.5,86.1 636.3,83.4 636.4,83.4 C636.5,83.4 634.4,86.6 634.0,87.0 C633.6,87.4 630.4,89.4 630.0,89.5 C629.6,89.6 628.4,88.9 628.5,88.7Z" fill="#b3b3b3"/>
<path d="M480.4,109.6 C480.8,109.3 489.0,108.6 490.0,108.5 C491.0,108.4 494.6,107.7 495.6,107.7 C496.6,107.7 503.7,108.3 505.0,108.2 C506.3,108.1 513.1,106.7 515.0,106.5 C516.9,106.3 531.0,105.9 533.3,105.8 C535.6,105.7 547.5,105.1 550.0,105.0 C552.5,104.9 568.4,104.0 571.1,103.9 C573.8,103.8 587.5,103.5 590.0,103.5 C592.5,103.5 607.4,103.7 608.9,103.9 C610.4,104.1 613.0,106.0 612.7,106.5 C612.4,107.0 608.6,111.0 605.1,111.4 C601.6,111.8 564.8,112.5 560.0,112.6 C555.2,112.7 537.3,113.3 533.3,113.3 C529.3,113.3 503.3,113.0 500.0,113.0 C496.7,113.0 485.5,112.8 484.2,112.6 C482.9,112.4 480.0,109.9 480.4,109.6Z" fill="#b3b3b3"/>
<circle cx="578.7" cy="83.9" r="1.7" fill="#000"/>
<text x="561.7" y="93.7" font-size="9" fill="#111" stroke="#111" stroke-width="0.15" textLength="34" lengthAdjust="spacingAndGlyphs">Amsterdam</text>
<text x="568.5" y="102.8" font-size="9" fill="#111" stroke="#111" stroke-width="0.15" textLength="19.6" lengthAdjust="spacingAndGlyphs">Island</text>
</g>
<text x="457.8" y="140.5" font-size="16" font-weight="bold" fill="#000" textLength="8.2" lengthAdjust="spacingAndGlyphs">b</text>

<!-- ===== Panel c ===== -->
<g stroke="#8a8a8a" stroke-width="1" fill="none">
<path d="M401.5,186.3 V344.7 H649.5"/>
<path d="M398.5,344.7 H401.5"/>
<path d="M398.5,313.1 H401.5"/>
<path d="M398.5,281.4 H401.5"/>
<path d="M398.5,249.8 H401.5"/>
<path d="M398.5,218.1 H401.5"/>
<path d="M398.5,186.5 H401.5"/>
<path d="M402.2,344.7 V347.7"/>
<path d="M444.3,344.7 V347.7"/>
<path d="M486.9,344.7 V347.7"/>
<path d="M528.8,344.7 V347.7"/>
<path d="M571.3,344.7 V347.7"/>
<path d="M613.7,344.7 V347.7"/>
<path d="M649.5,344.7 V347.7"/>
</g>
<g font-size="9.6" fill="#222" stroke="#222" stroke-width="0.2" text-anchor="end">
<text x="392.6" y="348.1" textLength="4.2" lengthAdjust="spacingAndGlyphs">0</text>
<text x="392.6" y="316.5" textLength="13.5" lengthAdjust="spacingAndGlyphs">500</text>
<text x="392.6" y="284.8" textLength="18.2" lengthAdjust="spacingAndGlyphs">1000</text>
<text x="392.6" y="253.2" textLength="18.2" lengthAdjust="spacingAndGlyphs">1500</text>
<text x="392.6" y="221.5" textLength="18.8" lengthAdjust="spacingAndGlyphs">2000</text>
<text x="392.6" y="189.9" textLength="19.2" lengthAdjust="spacingAndGlyphs">2500</text>
</g>
<g font-size="9.6" fill="#222" stroke="#222" stroke-width="0.2" text-anchor="middle">
<text x="402.2" y="361.1" textLength="18.6" lengthAdjust="spacingAndGlyphs">1871</text>
<text x="444.3" y="361.1" textLength="18.6" lengthAdjust="spacingAndGlyphs">1891</text>
<text x="486.9" y="361.1" textLength="18.6" lengthAdjust="spacingAndGlyphs">1911</text>
<text x="528.8" y="361.1" textLength="18.6" lengthAdjust="spacingAndGlyphs">1931</text>
<text x="571.3" y="361.1" textLength="18.6" lengthAdjust="spacingAndGlyphs">1951</text>
<text x="613.7" y="361.1" textLength="18.6" lengthAdjust="spacingAndGlyphs">1971</text>
<text x="649.5" y="361.1" textLength="18.6" lengthAdjust="spacingAndGlyphs">1988</text>
</g>
<text x="510.6" y="371" font-size="9.6" fill="#222" stroke="#222" stroke-width="0.2" textLength="16.9" lengthAdjust="spacingAndGlyphs">Date</text>
<text transform="translate(367,307.5) rotate(-90)" font-size="9" fill="#222" stroke="#222" stroke-width="0.15" textLength="89.5" lengthAdjust="spacingAndGlyphs">Estimated population size</text>
<g stroke="#000" stroke-width="2" fill="none" stroke-dasharray="4,3">
<path d="M576.5,298 V343"/>
<path d="M649.4,222 V343"/>
<path d="M402.3,363.5 V370"/>
<path d="M576.4,363.5 V370"/>
<path d="M649.0,363.5 V370"/>
</g>
<path d="M402.3,376.3 l-3,-5.5 h6z" fill="#000"/>
<path d="M576.4,376.3 l-3,-5.5 h6z" fill="#000"/>
<path d="M649.0,376.3 l-3,-5.5 h6z" fill="#000"/>
<polyline points="402.0,344.5 528.5,249.0 566.6,218.0 573.5,218.0 575.6,294.0 606.5,274.4 613.4,281.0 620.0,268.4 634.4,265.4 644.6,243.0 649.4,218.0" fill="none" stroke="#000" stroke-width="2.2" stroke-linejoin="round"/>
<circle cx="402.0" cy="344.5" r="4.6" fill="#000"/>
<circle cx="528.5" cy="249.0" r="4.6" fill="#000"/>
<circle cx="566.6" cy="218.0" r="4.6" fill="#000"/>
<circle cx="573.5" cy="218.0" r="4.6" fill="#000"/>
<circle cx="575.6" cy="294.0" r="4.6" fill="#000"/>
<circle cx="606.5" cy="274.4" r="4.6" fill="#000"/>
<circle cx="613.4" cy="281.0" r="4.6" fill="#000"/>
<circle cx="620.0" cy="268.4" r="4.6" fill="#000"/>
<circle cx="634.4" cy="265.4" r="4.6" fill="#000"/>
<circle cx="644.6" cy="243.0" r="4.6" fill="#000"/>
<circle cx="649.4" cy="218.0" r="4.6" fill="#000"/>
<text x="360.4" y="361.2" font-size="14.5" font-weight="bold" fill="#000" textLength="6.6" lengthAdjust="spacingAndGlyphs">c</text>
<g font-size="9.6" fill="#1a1a1a" stroke="#1a1a1a" stroke-width="0.2">
<text x="377" y="385" textLength="56.2" lengthAdjust="spacingAndGlyphs">Introduction of 5</text>
<text x="370.5" y="394.6" textLength="68.9" lengthAdjust="spacingAndGlyphs">founding individuals</text>
<text x="548.4" y="384.5" textLength="58.6" lengthAdjust="spacingAndGlyphs">Population crash</text>
<text x="548.4" y="396.6" textLength="57.6" lengthAdjust="spacingAndGlyphs">due to a disease</text>
<text x="628" y="384.6" textLength="45.6" lengthAdjust="spacingAndGlyphs">First removal</text>
</g>
</svg>
</body></html>
